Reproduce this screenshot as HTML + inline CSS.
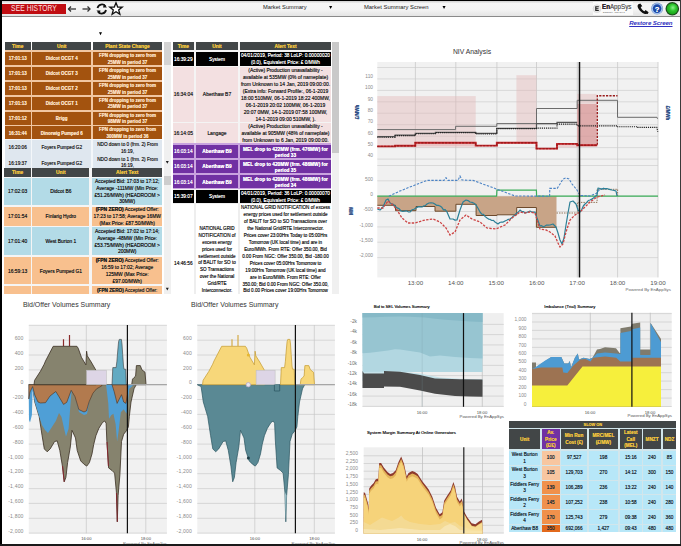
<!DOCTYPE html><html><head><meta charset="utf-8"><style>
html,body{margin:0;padding:0;width:681px;height:546px;overflow:hidden;background:#fff;font-family:"Liberation Sans",sans-serif;}
#root{position:absolute;left:0;top:0;width:681px;height:546px;overflow:hidden;background:#fff;}
svg{position:absolute;left:0;top:0;}
#root div{text-shadow:0 0 0.2px currentColor;}
</style></head><body><div id="root">
<div style="position:absolute;left:0.00px;top:0.00px;width:681.00px;height:16.50px;background:linear-gradient(#cfcfcf 1px,#f6f6f6 3.5px,#f4f4f4 55%,#e2e2e2);"></div>
<div style="position:absolute;left:0.00px;top:0.00px;width:681.00px;height:1.20px;background:#000;"></div>
<div style="position:absolute;left:0.00px;top:15.60px;width:681.00px;height:1.20px;background:#8a8a8a;"></div>
<div style="position:absolute;left:2.30px;top:3.90px;width:63.50px;height:9.70px;background:#c00d12;"></div>
<div style="position:absolute;left:2.00px;top:3.10px;width:64.00px;height:11.00px;display:flex;flex-direction:column;justify-content:center;overflow:visible;"><div style="font-size:8.2px;line-height:9.839999999999998px;color:#ffe0e0;font-weight:normal;text-align:center;transform:scaleX(0.82);letter-spacing:0.1px;text-shadow:none">SEE HISTORY</div></div>
<svg width="681" height="20" viewBox="0 0 681 20" style="position:absolute;left:0;top:0">
<g stroke="#333" stroke-width="1.3" fill="none">
<path d="M68.5 9 H76"/><path d="M71 6.5 L68.5 9 L71 11.5"/>
<path d="M82.5 9 H90"/><path d="M87.5 6.5 L90 9 L87.5 11.5"/>
</g>
<g fill="none" stroke="#111" stroke-width="1.8">
<path d="M97.5 8 A4.5 4.5 0 0 1 105.5 6.2"/>
<path d="M106 10 A4.5 4.5 0 0 1 98 11.8"/>
</g>
<path d="M104 4 L107 7.5 L103 7.5 Z" fill="#111"/>
<path d="M99.5 14 L96.5 10.5 L100.5 10.5 Z" fill="#111"/>
<path d="M116 2.8 L117.7 7 L122.2 7.1 L118.7 9.9 L119.9 14.3 L116 11.8 L112.1 14.3 L113.3 9.9 L109.8 7.1 L114.3 7 Z" fill="#fff" stroke="#111" stroke-width="1.3" stroke-linejoin="miter"/>
</svg>
<div style="position:absolute;left:255.00px;top:1.90px;width:65.00px;height:12.00px;display:flex;flex-direction:column;justify-content:center;overflow:visible;"><div style="font-size:5.75px;line-height:6.8999999999999995px;color:#222;font-weight:normal;text-align:left;padding-left:7.9px;text-shadow:none">Market Summary</div></div>
<div style="position:absolute;left:356.00px;top:1.90px;width:74.00px;height:12.00px;display:flex;flex-direction:column;justify-content:center;overflow:visible;"><div style="font-size:5.85px;line-height:7.02px;color:#222;font-weight:normal;text-align:left;padding-left:8px;text-shadow:none">Market Summary Screen</div></div>
<div style="position:absolute;left:592.50px;top:2.00px;width:40.50px;height:13.00px;background:#fafafa;"></div>
<svg width="681" height="30" viewBox="0 0 681 30" style="position:absolute;left:0;top:0">
<circle cx="597" cy="8.7" r="3.9" fill="#e8e8e8" stroke="#cfcfcf" stroke-width="0.6"/>
<path d="M595.2 6.3 H598.8 V7.3 H596.4 V8.2 H598.5 V9.2 H596.4 V10.1 H598.8 V11.1 H595.2 Z" fill="#222"/>
<path d="M638.2 4.6 C637.2 5.6 637.4 7.2 638.6 9 C640 11.1 641.9 12.8 644.2 13.7 C645.8 14.3 647.4 14 648.2 12.9 L646.2 10.9 C645.5 11.4 644.7 11.5 643.8 11 C642.5 10.2 641.4 8.9 640.9 7.6 C640.6 6.8 640.8 6.1 641.5 5.6 Z" fill="#111"/>
<path d="M638 4.4 L640.3 3.4 L642.3 6.2 L640.6 7.1 Z M644.4 11.6 L645.6 10 L648.6 12.2 L647.6 14 Z" fill="#111"/>
<circle cx="657.1" cy="8.6" r="6.0" fill="#7f9fcf"/>
<circle cx="657.1" cy="8.6" r="5.4" fill="#a9c6f0"/>
<circle cx="657.1" cy="8.6" r="4.3" fill="#1d4aa8"/>
<defs><radialGradient id="gg" cx="0.55" cy="0.4" r="0.6"><stop offset="0" stop-color="#8af58a"/><stop offset="0.5" stop-color="#2cc42c"/><stop offset="1" stop-color="#17a017"/></radialGradient></defs>
<circle cx="672.3" cy="8.8" r="6.8" fill="#1e4a1e"/>
<circle cx="672.3" cy="8.8" r="5.6" fill="url(#gg)"/>
</svg>
<div style="position:absolute;left:602.20px;top:3.90px;width:37.80px;height:8.00px;display:flex;flex-direction:column;justify-content:center;overflow:visible;"><div style="font-size:7.4px;line-height:8.88px;color:#333;font-weight:normal;text-align:left;transform:scaleX(0.84);transform-origin:0 50%;white-space:nowrap"><span style="color:#2a2a2a;font-weight:bold">En</span><span style="color:#666">AppSys</span></div></div>
<div style="position:absolute;left:603.00px;top:10.30px;width:29.00px;height:3.00px;display:flex;flex-direction:column;justify-content:center;overflow:visible;"><div style="font-size:2px;line-height:2.4px;color:#888;font-weight:normal;text-align:left;letter-spacing:0.35px">ENERGY INSIGHT</div></div>
<div style="position:absolute;left:650.00px;top:3.70px;width:14.00px;height:12.00px;display:flex;flex-direction:column;justify-content:center;overflow:visible;"><div style="font-size:7.6px;line-height:9.12px;color:#fff;font-weight:bold;text-align:center;">?</div></div>
<div style="position:absolute;left:620.00px;top:17.90px;width:52.50px;height:10.00px;display:flex;flex-direction:column;justify-content:center;overflow:visible;"><div style="font-size:6.1px;line-height:7.319999999999999px;color:#3030c0;font-weight:bold;text-align:right;font-style:italic;text-decoration:underline;text-decoration-thickness:0.5px;letter-spacing:-0.1px;text-shadow:none">Restore Screen</div></div>
<svg width="681" height="40" style="position:absolute;left:0;top:0"><path d="M329.1 5.9 H332.2 L330.65 8.9 Z M442.5 5.9 H445.6 L444.05 8.9 Z M99 32.2 H102 L100.5 35.2 Z" fill="#000"/></svg>
<div style="position:absolute;left:4.50px;top:41.80px;width:157.50px;height:125.80px;background:#ffffff;"></div>
<div style="position:absolute;left:4.50px;top:41.80px;width:26.40px;height:8.10px;background:#424647;"></div>
<div style="position:absolute;left:4.50px;top:43.10px;width:26.40px;height:8.10px;display:flex;flex-direction:column;justify-content:center;overflow:visible;"><div style="font-size:4.9px;line-height:6.9px;color:#eec23e;font-weight:bold;text-align:center;white-space:nowrap">Time</div></div>
<div style="position:absolute;left:32.30px;top:41.80px;width:58.90px;height:8.10px;background:#424647;"></div>
<div style="position:absolute;left:32.30px;top:43.10px;width:58.90px;height:8.10px;display:flex;flex-direction:column;justify-content:center;overflow:visible;"><div style="font-size:4.9px;line-height:6.9px;color:#eec23e;font-weight:bold;text-align:center;white-space:nowrap">Unit</div></div>
<div style="position:absolute;left:93.00px;top:41.80px;width:69.00px;height:8.10px;background:#424647;"></div>
<div style="position:absolute;left:93.00px;top:43.10px;width:69.00px;height:8.10px;display:flex;flex-direction:column;justify-content:center;overflow:visible;"><div style="font-size:4.9px;line-height:6.9px;color:#eec23e;font-weight:bold;text-align:center;white-space:nowrap">Plant State Change</div></div>
<div style="position:absolute;left:4.50px;top:49.90px;width:157.50px;height:90.20px;background:#f1c7a2;"></div>
<div style="position:absolute;left:4.50px;top:51.90px;width:26.40px;height:13.10px;background:#a3530f;"></div>
<div style="position:absolute;left:4.50px;top:53.20px;width:26.40px;height:13.10px;display:flex;flex-direction:column;justify-content:center;overflow:visible;"><div style="font-size:4.5px;line-height:6.6px;color:#fbe0c4;font-weight:bold;text-align:center;white-space:nowrap">17:01:13</div></div>
<div style="position:absolute;left:32.30px;top:51.90px;width:58.90px;height:13.10px;background:#a3530f;"></div>
<div style="position:absolute;left:32.30px;top:53.20px;width:58.90px;height:13.10px;display:flex;flex-direction:column;justify-content:center;overflow:visible;"><div style="font-size:4.5px;line-height:6.6px;color:#fbe0c4;font-weight:bold;text-align:center;white-space:nowrap">Didcot OCGT 4</div></div>
<div style="position:absolute;left:93.00px;top:51.90px;width:69.00px;height:13.10px;background:#a3530f;"></div>
<div style="position:absolute;left:93.00px;top:53.20px;width:69.00px;height:13.10px;display:flex;flex-direction:column;justify-content:center;overflow:visible;"><div style="font-size:4.5px;line-height:6.6px;color:#fbe0c4;font-weight:bold;text-align:center;white-space:nowrap">FPN dropping to zero from<br>25MW in period 37</div></div>
<div style="position:absolute;left:4.50px;top:66.80px;width:26.40px;height:13.10px;background:#a3530f;"></div>
<div style="position:absolute;left:4.50px;top:68.10px;width:26.40px;height:13.10px;display:flex;flex-direction:column;justify-content:center;overflow:visible;"><div style="font-size:4.5px;line-height:6.6px;color:#fbe0c4;font-weight:bold;text-align:center;white-space:nowrap">17:01:13</div></div>
<div style="position:absolute;left:32.30px;top:66.80px;width:58.90px;height:13.10px;background:#a3530f;"></div>
<div style="position:absolute;left:32.30px;top:68.10px;width:58.90px;height:13.10px;display:flex;flex-direction:column;justify-content:center;overflow:visible;"><div style="font-size:4.5px;line-height:6.6px;color:#fbe0c4;font-weight:bold;text-align:center;white-space:nowrap">Didcot OCGT 3</div></div>
<div style="position:absolute;left:93.00px;top:66.80px;width:69.00px;height:13.10px;background:#a3530f;"></div>
<div style="position:absolute;left:93.00px;top:68.10px;width:69.00px;height:13.10px;display:flex;flex-direction:column;justify-content:center;overflow:visible;"><div style="font-size:4.5px;line-height:6.6px;color:#fbe0c4;font-weight:bold;text-align:center;white-space:nowrap">FPN dropping to zero from<br>25MW in period 37</div></div>
<div style="position:absolute;left:4.50px;top:81.70px;width:26.40px;height:13.10px;background:#a3530f;"></div>
<div style="position:absolute;left:4.50px;top:83.00px;width:26.40px;height:13.10px;display:flex;flex-direction:column;justify-content:center;overflow:visible;"><div style="font-size:4.5px;line-height:6.6px;color:#fbe0c4;font-weight:bold;text-align:center;white-space:nowrap">17:01:13</div></div>
<div style="position:absolute;left:32.30px;top:81.70px;width:58.90px;height:13.10px;background:#a3530f;"></div>
<div style="position:absolute;left:32.30px;top:83.00px;width:58.90px;height:13.10px;display:flex;flex-direction:column;justify-content:center;overflow:visible;"><div style="font-size:4.5px;line-height:6.6px;color:#fbe0c4;font-weight:bold;text-align:center;white-space:nowrap">Didcot OCGT 2</div></div>
<div style="position:absolute;left:93.00px;top:81.70px;width:69.00px;height:13.10px;background:#a3530f;"></div>
<div style="position:absolute;left:93.00px;top:83.00px;width:69.00px;height:13.10px;display:flex;flex-direction:column;justify-content:center;overflow:visible;"><div style="font-size:4.5px;line-height:6.6px;color:#fbe0c4;font-weight:bold;text-align:center;white-space:nowrap">FPN dropping to zero from<br>25MW in period 37</div></div>
<div style="position:absolute;left:4.50px;top:96.60px;width:26.40px;height:13.10px;background:#a3530f;"></div>
<div style="position:absolute;left:4.50px;top:97.90px;width:26.40px;height:13.10px;display:flex;flex-direction:column;justify-content:center;overflow:visible;"><div style="font-size:4.5px;line-height:6.6px;color:#fbe0c4;font-weight:bold;text-align:center;white-space:nowrap">17:01:13</div></div>
<div style="position:absolute;left:32.30px;top:96.60px;width:58.90px;height:13.10px;background:#a3530f;"></div>
<div style="position:absolute;left:32.30px;top:97.90px;width:58.90px;height:13.10px;display:flex;flex-direction:column;justify-content:center;overflow:visible;"><div style="font-size:4.5px;line-height:6.6px;color:#fbe0c4;font-weight:bold;text-align:center;white-space:nowrap">Didcot OCGT 1</div></div>
<div style="position:absolute;left:93.00px;top:96.60px;width:69.00px;height:13.10px;background:#a3530f;"></div>
<div style="position:absolute;left:93.00px;top:97.90px;width:69.00px;height:13.10px;display:flex;flex-direction:column;justify-content:center;overflow:visible;"><div style="font-size:4.5px;line-height:6.6px;color:#fbe0c4;font-weight:bold;text-align:center;white-space:nowrap">FPN dropping to zero from<br>25MW in period 37</div></div>
<div style="position:absolute;left:4.50px;top:111.50px;width:26.40px;height:13.10px;background:#a3530f;"></div>
<div style="position:absolute;left:4.50px;top:112.80px;width:26.40px;height:13.10px;display:flex;flex-direction:column;justify-content:center;overflow:visible;"><div style="font-size:4.5px;line-height:6.6px;color:#fbe0c4;font-weight:bold;text-align:center;white-space:nowrap">17:01:12</div></div>
<div style="position:absolute;left:32.30px;top:111.50px;width:58.90px;height:13.10px;background:#a3530f;"></div>
<div style="position:absolute;left:32.30px;top:112.80px;width:58.90px;height:13.10px;display:flex;flex-direction:column;justify-content:center;overflow:visible;"><div style="font-size:4.5px;line-height:6.6px;color:#fbe0c4;font-weight:bold;text-align:center;white-space:nowrap">Brigg</div></div>
<div style="position:absolute;left:93.00px;top:111.50px;width:69.00px;height:13.10px;background:#a3530f;"></div>
<div style="position:absolute;left:93.00px;top:112.80px;width:69.00px;height:13.10px;display:flex;flex-direction:column;justify-content:center;overflow:visible;"><div style="font-size:4.5px;line-height:6.6px;color:#fbe0c4;font-weight:bold;text-align:center;white-space:nowrap">FPN dropping to zero from<br>98MW in period 37</div></div>
<div style="position:absolute;left:4.50px;top:126.00px;width:26.40px;height:13.40px;background:#a3530f;"></div>
<div style="position:absolute;left:4.50px;top:127.30px;width:26.40px;height:13.40px;display:flex;flex-direction:column;justify-content:center;overflow:visible;"><div style="font-size:4.5px;line-height:6.6px;color:#fbe0c4;font-weight:bold;text-align:center;white-space:nowrap">16:31:44</div></div>
<div style="position:absolute;left:32.30px;top:126.00px;width:58.90px;height:13.40px;background:#a3530f;"></div>
<div style="position:absolute;left:32.30px;top:127.30px;width:58.90px;height:13.40px;display:flex;flex-direction:column;justify-content:center;overflow:visible;"><div style="font-size:4.5px;line-height:6.6px;color:#fbe0c4;font-weight:bold;text-align:center;white-space:nowrap">Dinorwig Pumped 6</div></div>
<div style="position:absolute;left:93.00px;top:126.00px;width:69.00px;height:13.40px;background:#a3530f;"></div>
<div style="position:absolute;left:93.00px;top:127.30px;width:69.00px;height:13.40px;display:flex;flex-direction:column;justify-content:center;overflow:visible;"><div style="font-size:4.5px;line-height:6.6px;color:#fbe0c4;font-weight:bold;text-align:center;white-space:nowrap">FPN dropping to zero from<br>300MW in period 36</div></div>
<div style="position:absolute;left:4.50px;top:139.40px;width:157.50px;height:28.20px;background:#f4f7fa;"></div>
<div style="position:absolute;left:4.50px;top:140.10px;width:26.40px;height:14.50px;background:#dfe7ef;"></div>
<div style="position:absolute;left:4.50px;top:141.40px;width:26.40px;height:14.50px;display:flex;flex-direction:column;justify-content:center;overflow:visible;"><div style="font-size:4.7px;line-height:6.6px;color:#2b2b2b;font-weight:normal;text-align:center;white-space:nowrap">16:20:06</div></div>
<div style="position:absolute;left:32.30px;top:140.10px;width:58.90px;height:14.50px;background:#dfe7ef;"></div>
<div style="position:absolute;left:32.30px;top:141.40px;width:58.90px;height:14.50px;display:flex;flex-direction:column;justify-content:center;overflow:visible;"><div style="font-size:4.7px;line-height:6.6px;color:#2b2b2b;font-weight:normal;text-align:center;white-space:nowrap">Foyers Pumped G2</div></div>
<div style="position:absolute;left:93.00px;top:140.10px;width:69.00px;height:14.50px;background:#dfe7ef;"></div>
<div style="position:absolute;left:93.00px;top:141.40px;width:69.00px;height:14.50px;display:flex;flex-direction:column;justify-content:center;overflow:visible;"><div style="font-size:4.7px;line-height:6.6px;color:#2b2b2b;font-weight:normal;text-align:center;white-space:nowrap">NDO down to 0 (frm. 2) From<br>16:19,</div></div>
<div style="position:absolute;left:4.50px;top:155.40px;width:26.40px;height:13.60px;background:#dfe7ef;"></div>
<div style="position:absolute;left:4.50px;top:157.00px;width:26.40px;height:13.60px;display:flex;flex-direction:column;justify-content:center;overflow:visible;"><div style="font-size:4.7px;line-height:6.6px;color:#2b2b2b;font-weight:normal;text-align:center;white-space:nowrap">16:19:37</div></div>
<div style="position:absolute;left:32.30px;top:155.40px;width:58.90px;height:13.60px;background:#dfe7ef;"></div>
<div style="position:absolute;left:32.30px;top:157.00px;width:58.90px;height:13.60px;display:flex;flex-direction:column;justify-content:center;overflow:visible;"><div style="font-size:4.7px;line-height:6.6px;color:#2b2b2b;font-weight:normal;text-align:center;white-space:nowrap">Foyers Pumped G2</div></div>
<div style="position:absolute;left:93.00px;top:155.40px;width:69.00px;height:13.60px;background:#dfe7ef;"></div>
<div style="position:absolute;left:93.00px;top:156.70px;width:69.00px;height:13.60px;display:flex;flex-direction:column;justify-content:center;overflow:visible;"><div style="font-size:4.7px;line-height:6.6px;color:#2b2b2b;font-weight:normal;text-align:center;white-space:nowrap">NDO down to 1 (frm. 2) From<br>16:19,</div></div>
<div style="position:absolute;left:163.80px;top:41.80px;width:7.40px;height:125.80px;background:#f0f0f0;"></div>
<div style="position:absolute;left:164.30px;top:41.80px;width:6.60px;height:23.50px;background:#d3d3d3;"></div>
<div style="position:absolute;left:4.40px;top:167.60px;width:157.60px;height:126.40px;background:#f5f5f5;"></div>
<div style="position:absolute;left:4.40px;top:168.10px;width:26.40px;height:8.70px;background:#424647;"></div>
<div style="position:absolute;left:4.40px;top:169.40px;width:26.40px;height:8.70px;display:flex;flex-direction:column;justify-content:center;overflow:visible;"><div style="font-size:4.9px;line-height:6.9px;color:#eec23e;font-weight:bold;text-align:center;white-space:nowrap">Time</div></div>
<div style="position:absolute;left:32.30px;top:168.10px;width:57.10px;height:8.70px;background:#424647;"></div>
<div style="position:absolute;left:32.30px;top:169.40px;width:57.10px;height:8.70px;display:flex;flex-direction:column;justify-content:center;overflow:visible;"><div style="font-size:4.9px;line-height:6.9px;color:#eec23e;font-weight:bold;text-align:center;white-space:nowrap">Unit</div></div>
<div style="position:absolute;left:92.40px;top:168.10px;width:69.60px;height:8.70px;background:#424647;"></div>
<div style="position:absolute;left:92.40px;top:169.40px;width:69.60px;height:8.70px;display:flex;flex-direction:column;justify-content:center;overflow:visible;"><div style="font-size:4.9px;line-height:6.9px;color:#eec23e;font-weight:bold;text-align:center;white-space:nowrap">Alert Text</div></div>
<div style="position:absolute;left:4.40px;top:177.60px;width:26.40px;height:27.40px;background:#b3dbe7;"></div>
<div style="position:absolute;left:4.40px;top:178.90px;width:26.40px;height:27.40px;display:flex;flex-direction:column;justify-content:center;overflow:visible;"><div style="font-size:4.9px;line-height:6.85px;color:#222;font-weight:normal;text-align:center;white-space:nowrap">17:02:03</div></div>
<div style="position:absolute;left:32.30px;top:177.60px;width:57.10px;height:27.40px;background:#b3dbe7;"></div>
<div style="position:absolute;left:32.30px;top:178.90px;width:57.10px;height:27.40px;display:flex;flex-direction:column;justify-content:center;overflow:visible;"><div style="font-size:4.9px;line-height:6.85px;color:#222;font-weight:normal;text-align:center;white-space:nowrap">Didcot B6</div></div>
<div style="position:absolute;left:92.40px;top:177.60px;width:69.60px;height:27.40px;background:#b3dbe7;"></div>
<div style="position:absolute;left:92.40px;top:178.90px;width:69.60px;height:27.40px;display:flex;flex-direction:column;justify-content:center;overflow:visible;"><div style="font-size:4.9px;line-height:6.85px;color:#222;font-weight:normal;text-align:center;white-space:nowrap">Accepted Bid: 17:03 to 17:12;<br>Average -111MW (Min Price:<br>£51.26/MWh) (HEADROOM &gt;<br>30MW)</div></div>
<div style="position:absolute;left:4.40px;top:206.90px;width:26.40px;height:19.10px;background:#f8c08e;"></div>
<div style="position:absolute;left:4.40px;top:208.20px;width:26.40px;height:19.10px;display:flex;flex-direction:column;justify-content:center;overflow:visible;"><div style="font-size:4.9px;line-height:6.85px;color:#222;font-weight:normal;text-align:center;white-space:nowrap">17:01:54</div></div>
<div style="position:absolute;left:32.30px;top:206.90px;width:57.10px;height:19.10px;background:#f8c08e;"></div>
<div style="position:absolute;left:32.30px;top:208.20px;width:57.10px;height:19.10px;display:flex;flex-direction:column;justify-content:center;overflow:visible;"><div style="font-size:4.9px;line-height:6.85px;color:#222;font-weight:normal;text-align:center;white-space:nowrap">Finlarig Hydro</div></div>
<div style="position:absolute;left:92.40px;top:206.90px;width:69.60px;height:19.10px;background:#f8c08e;"></div>
<div style="position:absolute;left:92.40px;top:208.20px;width:69.60px;height:19.10px;display:flex;flex-direction:column;justify-content:center;overflow:visible;"><div style="font-size:4.9px;line-height:6.85px;color:#222;font-weight:normal;text-align:center;white-space:nowrap"><b>(FPN ZERO)</b> Accepted Offer:<br>17:23 to 17:58; Average 16MW<br>(Max Price: £87.50/MWh)</div></div>
<div style="position:absolute;left:4.40px;top:227.40px;width:26.40px;height:27.80px;background:#b3dbe7;"></div>
<div style="position:absolute;left:4.40px;top:228.70px;width:26.40px;height:27.80px;display:flex;flex-direction:column;justify-content:center;overflow:visible;"><div style="font-size:4.9px;line-height:6.85px;color:#222;font-weight:normal;text-align:center;white-space:nowrap">17:01:40</div></div>
<div style="position:absolute;left:32.30px;top:227.40px;width:57.10px;height:27.80px;background:#b3dbe7;"></div>
<div style="position:absolute;left:32.30px;top:228.70px;width:57.10px;height:27.80px;display:flex;flex-direction:column;justify-content:center;overflow:visible;"><div style="font-size:4.9px;line-height:6.85px;color:#222;font-weight:normal;text-align:center;white-space:nowrap">West Burton 1</div></div>
<div style="position:absolute;left:92.40px;top:227.40px;width:69.60px;height:27.80px;background:#b3dbe7;"></div>
<div style="position:absolute;left:92.40px;top:228.70px;width:69.60px;height:27.80px;display:flex;flex-direction:column;justify-content:center;overflow:visible;"><div style="font-size:4.9px;line-height:6.85px;color:#222;font-weight:normal;text-align:center;white-space:nowrap">Accepted Bid: 17:02 to 17:14;<br>Average -48MW (Min Price:<br>£53.75/MWh) (HEADROOM &gt;<br>200MW)</div></div>
<div style="position:absolute;left:4.40px;top:257.30px;width:26.40px;height:27.00px;background:#f8c08e;"></div>
<div style="position:absolute;left:4.40px;top:258.60px;width:26.40px;height:27.00px;display:flex;flex-direction:column;justify-content:center;overflow:visible;"><div style="font-size:4.9px;line-height:6.85px;color:#222;font-weight:normal;text-align:center;white-space:nowrap">16:59:13</div></div>
<div style="position:absolute;left:32.30px;top:257.30px;width:57.10px;height:27.00px;background:#f8c08e;"></div>
<div style="position:absolute;left:32.30px;top:258.60px;width:57.10px;height:27.00px;display:flex;flex-direction:column;justify-content:center;overflow:visible;"><div style="font-size:4.9px;line-height:6.85px;color:#222;font-weight:normal;text-align:center;white-space:nowrap">Foyers Pumped G1</div></div>
<div style="position:absolute;left:92.40px;top:257.30px;width:69.60px;height:27.00px;background:#f8c08e;"></div>
<div style="position:absolute;left:92.40px;top:258.60px;width:69.60px;height:27.00px;display:flex;flex-direction:column;justify-content:center;overflow:visible;"><div style="font-size:4.9px;line-height:6.85px;color:#222;font-weight:normal;text-align:center;white-space:nowrap"><b>(FPN ZERO)</b> Accepted Offer:<br>16:59 to 17:02; Average<br>125MW (Max Price:<br>£97.00/MWh)</div></div>
<div style="position:absolute;left:4.40px;top:285.70px;width:26.40px;height:14.30px;background:#f8c08e;"></div>
<div style="position:absolute;left:32.30px;top:285.70px;width:57.10px;height:14.30px;background:#f8c08e;"></div>
<div style="position:absolute;left:92.40px;top:285.70px;width:69.60px;height:14.30px;background:#f8c08e;"></div>
<div style="position:absolute;left:92.40px;top:287.00px;width:69.60px;height:8.30px;display:flex;flex-direction:column;justify-content:flex-start;overflow:visible;"><div style="font-size:4.7px;line-height:5.64px;color:#2a2a2a;font-weight:normal;text-align:center;white-space:nowrap;padding-top:1px"><b>(FPN ZERO)</b> Accepted Offer:</div></div>
<div style="position:absolute;left:0.00px;top:294.00px;width:172.00px;height:6.00px;background:#ffffff;"></div>
<div style="position:absolute;left:163.80px;top:167.60px;width:7.40px;height:126.40px;background:#f0f0f0;"></div>
<div style="position:absolute;left:164.40px;top:176.40px;width:6.20px;height:8.60px;background:#cdcdcd;"></div>
<div style="position:absolute;left:172.70px;top:41.80px;width:158.30px;height:252.20px;background:#f4f4f4;"></div>
<div style="position:absolute;left:172.70px;top:41.80px;width:21.30px;height:8.20px;background:#424647;"></div>
<div style="position:absolute;left:172.70px;top:43.10px;width:21.30px;height:8.20px;display:flex;flex-direction:column;justify-content:center;overflow:visible;"><div style="font-size:4.9px;line-height:6.9px;color:#eec23e;font-weight:bold;text-align:center;white-space:nowrap">Time</div></div>
<div style="position:absolute;left:196.00px;top:41.80px;width:42.00px;height:8.20px;background:#424647;"></div>
<div style="position:absolute;left:196.00px;top:43.10px;width:42.00px;height:8.20px;display:flex;flex-direction:column;justify-content:center;overflow:visible;"><div style="font-size:4.9px;line-height:6.9px;color:#eec23e;font-weight:bold;text-align:center;white-space:nowrap">Unit</div></div>
<div style="position:absolute;left:240.00px;top:41.80px;width:91.00px;height:8.20px;background:#424647;"></div>
<div style="position:absolute;left:240.00px;top:43.10px;width:91.00px;height:8.20px;display:flex;flex-direction:column;justify-content:center;overflow:visible;"><div style="font-size:4.9px;line-height:6.9px;color:#eec23e;font-weight:bold;text-align:center;white-space:nowrap">Alert Text</div></div>
<div style="position:absolute;left:172.70px;top:52.00px;width:21.30px;height:14.00px;background:#000;"></div>
<div style="position:absolute;left:172.70px;top:53.30px;width:21.30px;height:14.00px;display:flex;flex-direction:column;justify-content:center;overflow:visible;"><div style="font-size:4.8px;line-height:6.9px;color:#fff;font-weight:normal;text-align:center;white-space:nowrap">16:39:29</div></div>
<div style="position:absolute;left:196.00px;top:52.00px;width:42.00px;height:14.00px;background:#000;"></div>
<div style="position:absolute;left:196.00px;top:53.30px;width:42.00px;height:14.00px;display:flex;flex-direction:column;justify-content:center;overflow:visible;"><div style="font-size:4.8px;line-height:6.9px;color:#fff;font-weight:normal;text-align:center;white-space:nowrap">System</div></div>
<div style="position:absolute;left:240.00px;top:52.00px;width:91.00px;height:14.00px;background:#000;"></div>
<div style="position:absolute;left:240.00px;top:53.30px;width:91.00px;height:14.00px;display:flex;flex-direction:column;justify-content:center;overflow:visible;"><div style="font-size:4.8px;line-height:6.9px;color:#fff;font-weight:normal;text-align:center;white-space:nowrap">04/01/2019, Period: 38 LoLP: 0.00000020<br>(0.0), Equivalent Price: £ 0/MWh</div></div>
<div style="position:absolute;left:172.70px;top:66.80px;width:21.30px;height:55.50px;background:#f3e0e1;"></div>
<div style="position:absolute;left:172.70px;top:68.10px;width:21.30px;height:55.50px;display:flex;flex-direction:column;justify-content:center;overflow:visible;"><div style="font-size:4.95px;line-height:6.93px;color:#2a2a2a;font-weight:normal;text-align:center;white-space:nowrap">16:34:04</div></div>
<div style="position:absolute;left:196.00px;top:66.80px;width:42.00px;height:55.50px;background:#f3e0e1;"></div>
<div style="position:absolute;left:196.00px;top:68.10px;width:42.00px;height:55.50px;display:flex;flex-direction:column;justify-content:center;overflow:visible;"><div style="font-size:4.95px;line-height:6.93px;color:#2a2a2a;font-weight:normal;text-align:center;white-space:nowrap">Aberthaw B7</div></div>
<div style="position:absolute;left:240.00px;top:66.80px;width:91.00px;height:55.50px;background:#f3e0e1;"></div>
<div style="position:absolute;left:240.00px;top:68.10px;width:91.00px;height:55.50px;display:flex;flex-direction:column;justify-content:center;overflow:visible;"><div style="font-size:4.95px;line-height:6.93px;color:#2a2a2a;font-weight:normal;text-align:center;white-space:nowrap">(Active) Production unavailability -<br>available at 535MW (0% of nameplate)<br>from Unknown to 14 Jan, 2019 09:00:00.<br>(Extra info: Forward Profile:, 06-1-2019<br>18:00 510MW, 06-1-2019 18:22 400MW,<br>06-1-2019 20:02 100MW, 06-1-2019<br>20:07 0MW, 14-1-2019 07:58 100MW,<br>14-1-2019 09:00 510MW, ).</div></div>
<div style="position:absolute;left:172.70px;top:123.00px;width:21.30px;height:20.40px;background:#f3e0e1;"></div>
<div style="position:absolute;left:172.70px;top:124.30px;width:21.30px;height:20.40px;display:flex;flex-direction:column;justify-content:center;overflow:visible;"><div style="font-size:4.95px;line-height:6.93px;color:#2a2a2a;font-weight:normal;text-align:center;white-space:nowrap">16:14:05</div></div>
<div style="position:absolute;left:196.00px;top:123.00px;width:42.00px;height:20.40px;background:#f3e0e1;"></div>
<div style="position:absolute;left:196.00px;top:124.30px;width:42.00px;height:20.40px;display:flex;flex-direction:column;justify-content:center;overflow:visible;"><div style="font-size:4.95px;line-height:6.93px;color:#2a2a2a;font-weight:normal;text-align:center;white-space:nowrap">Langage</div></div>
<div style="position:absolute;left:240.00px;top:123.00px;width:91.00px;height:20.40px;background:#f3e0e1;"></div>
<div style="position:absolute;left:240.00px;top:124.30px;width:91.00px;height:20.40px;display:flex;flex-direction:column;justify-content:center;overflow:visible;"><div style="font-size:4.95px;line-height:6.93px;color:#2a2a2a;font-weight:normal;text-align:center;white-space:nowrap">(Active) Production unavailability -<br>available at 905MW (48% of nameplate)<br>from Unknown to 6 Jan, 2019 09:00:00.</div></div>
<div style="position:absolute;left:172.70px;top:143.40px;width:158.30px;height:46.10px;background:#c9a3df;"></div>
<div style="position:absolute;left:172.70px;top:144.60px;width:21.30px;height:13.20px;background:#7131a3;"></div>
<div style="position:absolute;left:172.70px;top:145.90px;width:21.30px;height:13.20px;display:flex;flex-direction:column;justify-content:center;overflow:visible;"><div style="font-size:4.8px;line-height:6.6px;color:#fff;font-weight:normal;text-align:center;white-space:nowrap">16:03:14</div></div>
<div style="position:absolute;left:196.00px;top:144.60px;width:42.00px;height:13.20px;background:#7131a3;"></div>
<div style="position:absolute;left:196.00px;top:145.90px;width:42.00px;height:13.20px;display:flex;flex-direction:column;justify-content:center;overflow:visible;"><div style="font-size:4.8px;line-height:6.6px;color:#fff;font-weight:bold;text-align:center;white-space:nowrap">Aberthaw B9</div></div>
<div style="position:absolute;left:240.00px;top:144.60px;width:91.00px;height:13.20px;background:#7131a3;"></div>
<div style="position:absolute;left:240.00px;top:146.50px;width:91.00px;height:13.20px;display:flex;flex-direction:column;justify-content:center;overflow:visible;"><div style="font-size:4.8px;line-height:6.6px;color:#fff;font-weight:bold;text-align:center;white-space:nowrap">MEL drop to 422MW (frm. 476MW) for<br>period 33</div></div>
<div style="position:absolute;left:172.70px;top:159.90px;width:21.30px;height:13.20px;background:#7131a3;"></div>
<div style="position:absolute;left:172.70px;top:161.20px;width:21.30px;height:13.20px;display:flex;flex-direction:column;justify-content:center;overflow:visible;"><div style="font-size:4.8px;line-height:6.6px;color:#fff;font-weight:normal;text-align:center;white-space:nowrap">16:03:14</div></div>
<div style="position:absolute;left:196.00px;top:159.90px;width:42.00px;height:13.20px;background:#7131a3;"></div>
<div style="position:absolute;left:196.00px;top:161.20px;width:42.00px;height:13.20px;display:flex;flex-direction:column;justify-content:center;overflow:visible;"><div style="font-size:4.8px;line-height:6.6px;color:#fff;font-weight:bold;text-align:center;white-space:nowrap">Aberthaw B9</div></div>
<div style="position:absolute;left:240.00px;top:159.90px;width:91.00px;height:13.20px;background:#7131a3;"></div>
<div style="position:absolute;left:240.00px;top:161.80px;width:91.00px;height:13.20px;display:flex;flex-direction:column;justify-content:center;overflow:visible;"><div style="font-size:4.8px;line-height:6.6px;color:#fff;font-weight:bold;text-align:center;white-space:nowrap">MEL drop to 420MW (frm. 486MW) for<br>period 35</div></div>
<div style="position:absolute;left:172.70px;top:174.70px;width:21.30px;height:13.60px;background:#7131a3;"></div>
<div style="position:absolute;left:172.70px;top:176.00px;width:21.30px;height:13.60px;display:flex;flex-direction:column;justify-content:center;overflow:visible;"><div style="font-size:4.8px;line-height:6.6px;color:#fff;font-weight:normal;text-align:center;white-space:nowrap">16:03:14</div></div>
<div style="position:absolute;left:196.00px;top:174.70px;width:42.00px;height:13.60px;background:#7131a3;"></div>
<div style="position:absolute;left:196.00px;top:176.00px;width:42.00px;height:13.60px;display:flex;flex-direction:column;justify-content:center;overflow:visible;"><div style="font-size:4.8px;line-height:6.6px;color:#fff;font-weight:bold;text-align:center;white-space:nowrap">Aberthaw B9</div></div>
<div style="position:absolute;left:240.00px;top:174.70px;width:91.00px;height:13.60px;background:#7131a3;"></div>
<div style="position:absolute;left:240.00px;top:176.60px;width:91.00px;height:13.60px;display:flex;flex-direction:column;justify-content:center;overflow:visible;"><div style="font-size:4.8px;line-height:6.6px;color:#fff;font-weight:bold;text-align:center;white-space:nowrap">MEL drop to 420MW (frm. 486MW) for<br>period 34</div></div>
<div style="position:absolute;left:172.70px;top:189.50px;width:21.30px;height:13.50px;background:#000;"></div>
<div style="position:absolute;left:172.70px;top:190.80px;width:21.30px;height:13.50px;display:flex;flex-direction:column;justify-content:center;overflow:visible;"><div style="font-size:4.8px;line-height:6.9px;color:#fff;font-weight:normal;text-align:center;white-space:nowrap">15:39:07</div></div>
<div style="position:absolute;left:196.00px;top:189.50px;width:42.00px;height:13.50px;background:#000;"></div>
<div style="position:absolute;left:196.00px;top:190.80px;width:42.00px;height:13.50px;display:flex;flex-direction:column;justify-content:center;overflow:visible;"><div style="font-size:4.8px;line-height:6.9px;color:#fff;font-weight:normal;text-align:center;white-space:nowrap">System</div></div>
<div style="position:absolute;left:240.00px;top:189.50px;width:91.00px;height:13.50px;background:#000;"></div>
<div style="position:absolute;left:240.00px;top:190.80px;width:91.00px;height:13.50px;display:flex;flex-direction:column;justify-content:center;overflow:visible;"><div style="font-size:4.8px;line-height:6.9px;color:#fff;font-weight:normal;text-align:center;white-space:nowrap">04/01/2019, Period: 36 LoLP: 0.00000070<br>(0.0), Equivalent Price: £ 0/MWh</div></div>
<div style="position:absolute;left:172.70px;top:203.00px;width:158.30px;height:91.00px;background:#eeeeee;"></div>
<div style="position:absolute;left:172.70px;top:203.80px;width:21.30px;height:90.20px;background:#ffffff;"></div>
<div style="position:absolute;left:196.00px;top:203.80px;width:42.00px;height:90.20px;background:#ffffff;"></div>
<div style="position:absolute;left:240.00px;top:203.80px;width:91.00px;height:90.20px;background:#ffffff;"></div>
<div style="position:absolute;left:172.70px;top:261.00px;width:21.30px;height:7.00px;display:flex;flex-direction:column;justify-content:center;overflow:visible;"><div style="font-size:4.75px;line-height:6.93px;color:#2a2a2a;font-weight:normal;text-align:center;">14:46:56</div></div>
<div style="position:absolute;left:196.00px;top:225.80px;width:42.00px;height:69.50px;display:flex;flex-direction:column;justify-content:flex-start;overflow:visible;"><div style="font-size:4.6px;line-height:6.93px;color:#2a2a2a;font-weight:normal;text-align:center;white-space:nowrap">NATIONAL GRID<br>NOTIFICATION of<br>excess energy<br>prices used for<br>settlement outside<br>of BALIT for SO to<br>SO Transactions<br>over the National<br>Grid/RTE<br>Interconnector.</div></div>
<div style="position:absolute;left:240.00px;top:205.20px;width:91.00px;height:90.10px;display:flex;flex-direction:column;justify-content:flex-start;overflow:visible;"><div style="font-size:4.6px;line-height:6.93px;color:#2a2a2a;font-weight:normal;text-align:center;white-space:nowrap">NATIONAL GRID NOTIFICATION of excess<br>energy prices used for settlement outside<br>of BALIT for SO to SO Transactions over<br>the National Grid/RTE Interconnector.<br>Prices cover 23:00Hrs Today to 05:00Hrs<br>Tomorrow (UK local time) and are in<br>Euro/MWh. From RTE: Offer 350.00, Bid<br>0.00 From NGC: Offer 350.00, Bid -180.00<br>Prices cover 05:00Hrs Tomorrow to<br>19:00Hrs Tomorrow (UK local time) and<br>are in Euro/MWh. From RTE: Offer<br>350.00; Bid 0.00 From NGC: Offer 350.00,<br>Bid 0.00 Prices cover 19:00Hrs Tomorrow</div></div>
<div style="position:absolute;left:172.00px;top:294.00px;width:173.00px;height:6.00px;background:#ffffff;"></div>
<svg width="681" height="300" style="position:absolute;left:0;top:0"><path d="M165.8 161.1 H168.8 L167.3 163.8 Z M165.8 287.7 H168.8 L167.3 290.4 Z M334.2 287.7 H337.2 L335.7 290.4 Z" fill="#222"/></svg>
<div style="position:absolute;left:331.80px;top:41.80px;width:7.70px;height:252.20px;background:#f0f0f0;"></div>
<div style="position:absolute;left:332.20px;top:41.80px;width:7.10px;height:110.90px;background:#c9c9c9;"></div>
<svg width="681" height="546" viewBox="0 0 681 546" style="position:absolute;left:0;top:0">
<rect x="377.3" y="62.0" width="280.7" height="215.39999999999998" fill="#f1f1f1"/>
<line x1="377.3" x2="658.0" y1="67.5" y2="67.5" stroke="#d6d6d6" stroke-width="0.9"/>
<line x1="377.3" x2="658.0" y1="78.9" y2="78.9" stroke="#d6d6d6" stroke-width="0.9"/>
<line x1="377.3" x2="658.0" y1="90.4" y2="90.4" stroke="#d6d6d6" stroke-width="0.9"/>
<line x1="377.3" x2="658.0" y1="101.8" y2="101.8" stroke="#d6d6d6" stroke-width="0.9"/>
<line x1="377.3" x2="658.0" y1="113.2" y2="113.2" stroke="#d6d6d6" stroke-width="0.9"/>
<line x1="377.3" x2="658.0" y1="124.7" y2="124.7" stroke="#d6d6d6" stroke-width="0.9"/>
<line x1="377.3" x2="658.0" y1="136.2" y2="136.2" stroke="#d6d6d6" stroke-width="0.9"/>
<line x1="377.3" x2="658.0" y1="147.6" y2="147.6" stroke="#d6d6d6" stroke-width="0.9"/>
<line x1="377.3" x2="658.0" y1="159.1" y2="159.1" stroke="#d6d6d6" stroke-width="0.9"/>
<line x1="377.3" x2="658.0" y1="165.5" y2="165.5" stroke="#d6d6d6" stroke-width="0.9"/>
<line x1="377.3" x2="658.0" y1="180.8" y2="180.8" stroke="#d6d6d6" stroke-width="0.9"/>
<line x1="377.3" x2="658.0" y1="196.2" y2="196.2" stroke="#d6d6d6" stroke-width="0.9"/>
<line x1="377.3" x2="658.0" y1="211.5" y2="211.5" stroke="#d6d6d6" stroke-width="0.9"/>
<line x1="377.3" x2="658.0" y1="226.9" y2="226.9" stroke="#d6d6d6" stroke-width="0.9"/>
<line x1="377.3" x2="658.0" y1="242.2" y2="242.2" stroke="#d6d6d6" stroke-width="0.9"/>
<line x1="377.3" x2="658.0" y1="257.6" y2="257.6" stroke="#d6d6d6" stroke-width="0.9"/>
<line x1="415.4" x2="415.4" y1="62.0" y2="277.4" stroke="#c9c9c9" stroke-width="0.8"/>
<line x1="455.8" x2="455.8" y1="62.0" y2="277.4" stroke="#c9c9c9" stroke-width="0.8"/>
<line x1="496.9" x2="496.9" y1="62.0" y2="277.4" stroke="#c9c9c9" stroke-width="0.8"/>
<line x1="536.5" x2="536.5" y1="62.0" y2="277.4" stroke="#c9c9c9" stroke-width="0.8"/>
<line x1="577.3" x2="577.3" y1="62.0" y2="277.4" stroke="#c9c9c9" stroke-width="0.8"/>
<line x1="617.6" x2="617.6" y1="62.0" y2="277.4" stroke="#c9c9c9" stroke-width="0.8"/>
<line x1="658.0" x2="658.0" y1="62.0" y2="277.4" stroke="#c9c9c9" stroke-width="0.8"/>
<rect x="377.3" y="96.1" width="98.4" height="51.5" fill="#e3b5b5" opacity="0.42"/>
<rect x="516.4" y="75.2" width="20.1" height="68.5" fill="#e3b5b5" opacity="0.42"/>
<rect x="577.1" y="93.9" width="19.5" height="52.5" fill="#e3b5b5" opacity="0.42"/>
<rect x="577.1" y="104.0" width="19.5" height="42.1" fill="#d07878" opacity="0.45"/>
<rect x="415.4" y="143" width="60.3" height="3" fill="#e8b0b0" opacity="0.5"/>
<rect x="556.5" y="144" width="21" height="3.5" fill="#e8b0b0" opacity="0.5"/>
<path d="M377.3 129.6 L455.6 129.6 L455.6 126.3 L496.8 126.3 L496.8 123.6 L536.5 123.6 L536.5 108.5 L577.2 108.5 L577.2 100.3 L617.5 100.3 L617.5 117.3 L657.0 117.3 L657.5 118.8" fill="none" stroke="#6b6b6b" stroke-width="1"/>
<path d="M377.3 136.6 L395.1 136.6 L395.1 135.1 L415.3 135.1 L415.3 133.3 L435.4 133.3 L435.4 132.3 L475.7 132.3 L475.7 133.3 L496.8 133.3 L496.8 128.3 L536.5 128.3 L536.5 123.7 L557.0 123.7 L557.0 122.3 L577.2 122.3" fill="none" stroke="#555" stroke-width="1.2"/>
<path d="M377.3 137.2 L395.1 137.2 L395.1 135.6 L415.3 135.6 L415.3 133.8 L435.4 133.8 L435.4 132.6 L475.7 132.6 L475.7 134.0 L496.8 134.0 L496.8 128.6 L536.5 128.6 L536.5 128.1 L557.0 128.1 L557.0 124.1 L577.2 124.1 L577.2 125.9 L617.5 125.9 L617.5 126.7 L637.8 126.7 L637.8 127.4 L656.8 127.4 L657.8 131.8" fill="none" stroke="#222" stroke-width="1.1" stroke-dasharray="1.2 0.9"/>
<path d="M377.3 146.4 L395.1 146.4 L395.1 145.7 L415.3 145.7 L415.3 142.8 L475.7 142.8 L475.7 145.6 L496.8 145.6 L496.8 142.8 L536.5 142.8 L536.5 148.6 L557.0 148.6 L557.0 143.9 L577.2 143.9 L577.2 145.2 L597.3 145.2" fill="none" stroke="#c9262c" stroke-width="1.9"/>
<path d="M377.3 146.4 L395.1 146.4 L395.1 145.7 L415.3 145.7 L415.3 142.8 L475.7 142.8 L475.7 145.6 L496.8 145.6 L496.8 142.8 L536.5 142.8 L536.5 148.6 L557.0 148.6 L557.0 143.9 L577.2 143.9 L577.2 145.2 L597.3 145.2 L597.3 95.7 L617.5 95.7" fill="none" stroke="#9a1c1c" stroke-width="1.4" stroke-dasharray="2.2 1.2"/>
<path d="M377.3 196.2 L377.3 205.3 L395.5 205.3 L395.5 210.7 L416.0 210.7 L416.0 206.5 L435.0 206.5 L435.0 211.2 L455.9 211.2 L455.9 204.3 L476.1 204.3 L476.1 215.5 L496.9 215.5 L496.9 214.8 L516.7 214.8 L516.7 207.5 L536.4 207.5 L536.4 227.3 L556.5 227.3 L556.5 196.2 Z" fill="#c8a487"/>
<path d="M377.3 205.3 L395.5 205.3 L395.5 210.7 L416.0 210.7 L416.0 206.5 L435.0 206.5 L435.0 211.2 L455.9 211.2 L455.9 204.3 L476.1 204.3 L476.1 215.5 L496.9 215.5 L496.9 214.8 L516.7 214.8 L516.7 207.5 L536.4 207.5 L536.4 227.3 L556.5 227.3" fill="none" stroke="#6e4a2c" stroke-width="1"/>
<path d="M556.5 213.0 L577.7 213.0 L577.7 202.4 L597.1 202.4 L597.1 189.3 L617.6 189.3 L617.6 196.2" fill="none" stroke="#8a6a4a" stroke-width="0.9" stroke-dasharray="1.5 1"/>
<path d="M377.3 196.2 L496.6 196.2 L496.9 190.2 L536.4 190.2 L536.6 196.2 L658.0 196.2" fill="none" stroke="#3cae5a" stroke-width="1.2"/>
<path d="M388.9 196.2 L400.0 191.0 L415.0 185.0 L427.0 180.4 L444.0 180.4 L446.0 177.6 L448.0 180.4 L458.0 180.4 L460.0 176.0 L462.0 180.0 L473.0 180.4 L496.5 189.0 L515.0 196.0 L549.6 196.2 L549.8 188.4 L557.2 188.4 L560.0 184.0 L563.0 179.0 L566.0 177.9 L569.0 179.0 L572.0 184.0 L577.0 190.0 L580.0 195.5 L590.0 196.0 L597.0 193.0 L600.0 189.0 L607.0 188.5" fill="none" stroke="#4a82c4" stroke-width="1.1" stroke-dasharray="2.4 1.4"/>
<path d="M377.3 209.0 L380.0 210.0 L383.0 207.0 L386.0 200.0 L388.0 199.0 L390.0 203.0 L391.7 203.7 L393.3 204.4 L395.0 206.0 L397.0 207.9 L399.0 208.6 L401.0 211.0 L402.8 211.3 L404.6 211.2 L406.4 210.8 L408.2 211.8 L410.0 212.0 L412.0 209.8 L414.0 209.2 L416.0 208.0 L418.0 206.9 L420.0 206.6 L422.0 207.0 L423.7 205.9 L425.3 205.6 L427.0 204.0 L429.0 203.0 L431.0 202.8 L433.0 203.0 L434.8 204.0 L436.5 205.3 L438.2 205.4 L440.0 206.0 L441.8 207.3 L443.5 209.9 L445.2 209.7 L447.0 212.0 L450.0 219.0 L453.0 219.0 L455.0 220.1 L457.0 220.0 L460.0 210.0 L463.0 202.0 L466.0 200.0 L468.0 200.6 L470.0 202.0 L472.0 202.4 L474.0 203.3 L476.0 205.0 L478.0 208.2 L480.0 212.0 L481.8 214.1 L483.5 214.4 L485.2 216.6 L487.0 218.0 L488.6 219.1 L490.2 219.4 L491.8 220.5 L493.4 220.4 L495.0 222.0 L498.0 224.0 L499.8 222.5 L501.5 222.0 L503.2 222.1 L505.0 221.0 L506.7 220.2 L508.3 219.3 L510.0 219.0 L511.7 217.8 L513.3 216.2 L515.0 215.0 L516.7 213.0 L518.3 212.2 L520.0 210.0 L521.7 211.4 L523.3 211.5 L525.0 213.0 L526.7 212.5 L528.3 211.7 L530.0 211.0 L531.7 212.0 L533.3 212.1 L535.0 212.0 L537.0 218.0 L540.0 226.0 L541.7 225.6 L543.3 226.9 L545.0 226.0 L546.7 225.0 L548.3 225.2 L550.0 225.0 L553.0 224.0 L556.0 227.0 L558.0 233.0 L560.0 240.0 L562.0 244.0 L564.0 238.0 L566.0 225.0 L568.0 213.0 L570.0 202.0 L573.0 201.0 L576.0 204.0 L578.0 210.0 L580.0 212.0 L581.7 209.8 L583.3 206.0 L585.0 204.0 L586.7 202.6 L588.3 200.5 L590.0 200.0 L591.8 199.1 L593.5 198.0 L595.2 196.4 L597.0 195.0 L598.0 188.0 L600.0 188.5 L601.8 189.2 L603.5 188.2 L605.2 188.9 L607.0 188.5 L608.7 189.2 L610.3 189.6 L612.0 190.0 L614.0 190.4 L616.0 191.0 L617.0 196.0" fill="none" stroke="#2b7f96" stroke-width="1.2" stroke-linejoin="round"/>
<path d="M377.3 208.0 L383.0 208.0 L388.0 201.0 L393.0 205.0 L397.0 210.0 L402.0 218.0 L408.0 223.0 L415.0 223.0 L425.0 220.0 L433.0 219.0 L440.0 222.0 L446.0 228.0 L450.0 235.0 L455.0 232.0 L460.0 220.0 L466.0 215.0 L472.0 219.0 L480.0 222.0 L487.0 228.0 L496.0 229.0 L505.0 225.0 L512.0 218.0 L520.0 212.0 L525.0 213.0 L530.0 212.0 L535.0 213.0 L537.0 220.0 L540.0 229.0 L546.0 230.0 L550.0 232.0 L555.0 236.0 L558.0 243.0 L560.0 247.0 L563.0 244.0 L566.0 232.0 L570.0 220.0 L575.0 215.0 L580.0 212.0 L585.0 207.0 L590.0 202.0 L597.0 197.0 L605.0 195.0" fill="none" stroke="#cc4444" stroke-width="1.3" stroke-dasharray="2.4 1.3"/>
<line x1="579.5" x2="579.5" y1="62" y2="277.4" stroke="#111" stroke-width="1.5"/>
</svg>
<div style="position:absolute;left:427.00px;top:46.50px;width:90.00px;height:12.00px;display:flex;flex-direction:column;justify-content:center;overflow:visible;"><div style="font-size:6.8px;line-height:8.16px;color:#333;font-weight:normal;text-align:center;;text-shadow:none">NIV Analysis</div></div>
<div style="position:absolute;left:350.00px;top:73.80px;width:23.00px;height:6.00px;display:flex;flex-direction:column;justify-content:center;overflow:visible;"><div style="font-size:4.8px;line-height:5.76px;color:#8a8a8a;font-weight:normal;text-align:right;;text-shadow:none">110</div></div>
<div style="position:absolute;left:350.00px;top:85.15px;width:23.00px;height:6.00px;display:flex;flex-direction:column;justify-content:center;overflow:visible;"><div style="font-size:4.8px;line-height:5.76px;color:#8a8a8a;font-weight:normal;text-align:right;;text-shadow:none">100</div></div>
<div style="position:absolute;left:350.00px;top:96.50px;width:23.00px;height:6.00px;display:flex;flex-direction:column;justify-content:center;overflow:visible;"><div style="font-size:4.8px;line-height:5.76px;color:#8a8a8a;font-weight:normal;text-align:right;;text-shadow:none">90</div></div>
<div style="position:absolute;left:350.00px;top:107.85px;width:23.00px;height:6.00px;display:flex;flex-direction:column;justify-content:center;overflow:visible;"><div style="font-size:4.8px;line-height:5.76px;color:#8a8a8a;font-weight:normal;text-align:right;;text-shadow:none">80</div></div>
<div style="position:absolute;left:350.00px;top:119.20px;width:23.00px;height:6.00px;display:flex;flex-direction:column;justify-content:center;overflow:visible;"><div style="font-size:4.8px;line-height:5.76px;color:#8a8a8a;font-weight:normal;text-align:right;;text-shadow:none">70</div></div>
<div style="position:absolute;left:350.00px;top:130.55px;width:23.00px;height:6.00px;display:flex;flex-direction:column;justify-content:center;overflow:visible;"><div style="font-size:4.8px;line-height:5.76px;color:#8a8a8a;font-weight:normal;text-align:right;;text-shadow:none">60</div></div>
<div style="position:absolute;left:350.00px;top:141.90px;width:23.00px;height:6.00px;display:flex;flex-direction:column;justify-content:center;overflow:visible;"><div style="font-size:4.8px;line-height:5.76px;color:#8a8a8a;font-weight:normal;text-align:right;;text-shadow:none">50</div></div>
<div style="position:absolute;left:350.00px;top:153.25px;width:23.00px;height:6.00px;display:flex;flex-direction:column;justify-content:center;overflow:visible;"><div style="font-size:4.8px;line-height:5.76px;color:#8a8a8a;font-weight:normal;text-align:right;;text-shadow:none">40</div></div>
<div style="position:absolute;left:345.00px;top:177.10px;width:28.00px;height:6.00px;display:flex;flex-direction:column;justify-content:center;overflow:visible;"><div style="font-size:4.8px;line-height:5.76px;color:#8a8a8a;font-weight:normal;text-align:right;;text-shadow:none">500</div></div>
<div style="position:absolute;left:345.00px;top:192.20px;width:28.00px;height:6.00px;display:flex;flex-direction:column;justify-content:center;overflow:visible;"><div style="font-size:4.8px;line-height:5.76px;color:#8a8a8a;font-weight:normal;text-align:right;;text-shadow:none">0</div></div>
<div style="position:absolute;left:345.00px;top:207.30px;width:28.00px;height:6.00px;display:flex;flex-direction:column;justify-content:center;overflow:visible;"><div style="font-size:4.8px;line-height:5.76px;color:#8a8a8a;font-weight:normal;text-align:right;;text-shadow:none">-500</div></div>
<div style="position:absolute;left:345.00px;top:222.40px;width:28.00px;height:6.00px;display:flex;flex-direction:column;justify-content:center;overflow:visible;"><div style="font-size:4.8px;line-height:5.76px;color:#8a8a8a;font-weight:normal;text-align:right;;text-shadow:none">-1,000</div></div>
<div style="position:absolute;left:345.00px;top:237.50px;width:28.00px;height:6.00px;display:flex;flex-direction:column;justify-content:center;overflow:visible;"><div style="font-size:4.8px;line-height:5.76px;color:#8a8a8a;font-weight:normal;text-align:right;;text-shadow:none">-1,500</div></div>
<div style="position:absolute;left:345.00px;top:252.60px;width:28.00px;height:6.00px;display:flex;flex-direction:column;justify-content:center;overflow:visible;"><div style="font-size:4.8px;line-height:5.76px;color:#8a8a8a;font-weight:normal;text-align:right;;text-shadow:none">-2,000</div></div>
<div style="position:absolute;left:400.40px;top:279.30px;width:30.00px;height:7.00px;display:flex;flex-direction:column;justify-content:center;overflow:visible;"><div style="font-size:6.2px;line-height:7.4399999999999995px;color:#555;font-weight:normal;text-align:center;;text-shadow:none">13:00</div></div>
<div style="position:absolute;left:440.83px;top:279.30px;width:30.00px;height:7.00px;display:flex;flex-direction:column;justify-content:center;overflow:visible;"><div style="font-size:6.2px;line-height:7.4399999999999995px;color:#555;font-weight:normal;text-align:center;;text-shadow:none">14:00</div></div>
<div style="position:absolute;left:481.26px;top:279.30px;width:30.00px;height:7.00px;display:flex;flex-direction:column;justify-content:center;overflow:visible;"><div style="font-size:6.2px;line-height:7.4399999999999995px;color:#555;font-weight:normal;text-align:center;;text-shadow:none">15:00</div></div>
<div style="position:absolute;left:521.69px;top:279.30px;width:30.00px;height:7.00px;display:flex;flex-direction:column;justify-content:center;overflow:visible;"><div style="font-size:6.2px;line-height:7.4399999999999995px;color:#555;font-weight:normal;text-align:center;;text-shadow:none">16:00</div></div>
<div style="position:absolute;left:562.12px;top:279.30px;width:30.00px;height:7.00px;display:flex;flex-direction:column;justify-content:center;overflow:visible;"><div style="font-size:6.2px;line-height:7.4399999999999995px;color:#555;font-weight:normal;text-align:center;;text-shadow:none">17:00</div></div>
<div style="position:absolute;left:602.55px;top:279.30px;width:30.00px;height:7.00px;display:flex;flex-direction:column;justify-content:center;overflow:visible;"><div style="font-size:6.2px;line-height:7.4399999999999995px;color:#555;font-weight:normal;text-align:center;;text-shadow:none">18:00</div></div>
<div style="position:absolute;left:642.98px;top:279.30px;width:30.00px;height:7.00px;display:flex;flex-direction:column;justify-content:center;overflow:visible;"><div style="font-size:6.2px;line-height:7.4399999999999995px;color:#555;font-weight:normal;text-align:center;;text-shadow:none">19:00</div></div>
<div style="position:absolute;left:590.00px;top:287.00px;width:81.00px;height:6.00px;display:flex;flex-direction:column;justify-content:center;overflow:visible;"><div style="font-size:4.4px;line-height:5.28px;color:#666;font-weight:normal;text-align:right;;text-shadow:none">Powered By EnAppSys</div></div>
<div style="position:absolute;left:344px;top:109px;width:28px;height:6px;transform:rotate(-90deg);font-size:4.5px;line-height:6px;text-align:center;color:#2f4f86;font-weight:bold">£/MWh</div>
<div style="position:absolute;left:653px;top:109.5px;width:28px;height:6px;transform:rotate(90deg);font-size:4.5px;line-height:6px;text-align:center;color:#2f4f86;font-weight:bold">£/MWh</div>
<div style="position:absolute;left:337.5px;top:208px;width:28px;height:6px;transform:rotate(-90deg);font-size:4.6px;line-height:6px;text-align:center;color:#2f4f86;font-weight:bold">MW</div>
<svg width="681" height="546" viewBox="0 0 681 546" style="position:absolute;left:0;top:0">
<rect x="28.8" y="325" width="138.1" height="208.3" fill="#f1f1f1"/>
<line x1="28.8" x2="166.9" y1="533.1" y2="533.1" stroke="#d4d4d4" stroke-width="0.9"/>
<line x1="28.8" x2="166.9" y1="518.3" y2="518.3" stroke="#d4d4d4" stroke-width="0.9"/>
<line x1="28.8" x2="166.9" y1="503.4" y2="503.4" stroke="#d4d4d4" stroke-width="0.9"/>
<line x1="28.8" x2="166.9" y1="488.6" y2="488.6" stroke="#d4d4d4" stroke-width="0.9"/>
<line x1="28.8" x2="166.9" y1="473.7" y2="473.7" stroke="#d4d4d4" stroke-width="0.9"/>
<line x1="28.8" x2="166.9" y1="458.9" y2="458.9" stroke="#d4d4d4" stroke-width="0.9"/>
<line x1="28.8" x2="166.9" y1="444.1" y2="444.1" stroke="#d4d4d4" stroke-width="0.9"/>
<line x1="28.8" x2="166.9" y1="429.2" y2="429.2" stroke="#d4d4d4" stroke-width="0.9"/>
<line x1="28.8" x2="166.9" y1="414.4" y2="414.4" stroke="#d4d4d4" stroke-width="0.9"/>
<line x1="28.8" x2="166.9" y1="399.5" y2="399.5" stroke="#d4d4d4" stroke-width="0.9"/>
<line x1="28.8" x2="166.9" y1="384.7" y2="384.7" stroke="#d4d4d4" stroke-width="0.9"/>
<line x1="28.8" x2="166.9" y1="369.9" y2="369.9" stroke="#d4d4d4" stroke-width="0.9"/>
<line x1="28.8" x2="166.9" y1="355.0" y2="355.0" stroke="#d4d4d4" stroke-width="0.9"/>
<line x1="28.8" x2="166.9" y1="340.2" y2="340.2" stroke="#d4d4d4" stroke-width="0.9"/>
<line x1="28.8" x2="166.9" y1="325.3" y2="325.3" stroke="#d4d4d4" stroke-width="0.9"/>
<line x1="86.3" x2="86.3" y1="325" y2="533.3" stroke="#c6c6c6" stroke-width="0.7"/>
<line x1="145.8" x2="145.8" y1="325" y2="533.3" stroke="#c6c6c6" stroke-width="0.7"/>
<path d="M28.8 384.7 L32.6 386.6 L34.8 402.0 L39.2 416.6 L42.1 435.7 L44.3 448.9 L47.2 451.8 L50.2 448.9 L54.6 441.5 L57.2 440.9 L59.8 450.4 L62.4 466.1 L64.2 481.8 L65.9 477.4 L67.6 462.6 L70.3 447.0 L72.0 430.3 L75.5 438.0 L77.2 450.4 L80.7 460.9 L84.2 464.4 L86.8 466.1 L89.4 462.6 L92.0 453.9 L93.7 444.5 L95.9 435.7 L98.8 428.4 L102.5 422.5 L104.7 421.0 L106.1 423.2 L106.8 440.0 L108.6 467.9 L112.0 470.5 L114.6 473.1 L116.4 492.2 L117.3 521.8 L118.1 495.7 L119.9 474.8 L121.5 441.5 L123.7 434.2 L126.6 430.5 L128.4 426.9 L129.3 416.6 L131.0 402.0 L134.0 388.8 L136.2 384.7 Z" fill="#86836e" stroke="#3a2f22" stroke-width="0.8"/>
<path d="M28.8 384.7 L28.8 399.0 L29.0 420.0 L30.0 422.5 L31.9 415.0 L32.6 390.0 L34.8 402.0 L39.2 416.6 L42.0 425.0 L45.0 430.0 L48.0 433.0 L51.3 428.0 L55.8 421.0 L59.0 413.0 L61.5 417.0 L64.7 431.3 L66.0 436.4 L68.6 428.7 L71.2 395.4 L72.5 384.7 Z" fill="#4f9fd6"/>
<path d="M76.0 384.7 L76.0 400.0 L79.0 412.0 L84.0 415.0 L87.0 414.0 L89.0 403.0 L92.0 384.7 Z" fill="#4f9fd6"/>
<path d="M106.1 384.7 L108.3 403.4 L109.0 418.8 L111.2 415.2 L113.4 413.7 L115.6 424.0 L117.1 441.5 L118.6 431.3 L120.8 412.2 L123.7 409.3 L126.6 413.7 L127.8 403.4 L129.3 388.8 L134.0 384.7 Z" fill="#4f9fd6"/>
<path d="M28.8 384.7 L28.8 399.0 L30.0 392.0 L32.6 386.6 L34.8 395.0 L38.0 402.0 L40.4 403.0 L45.5 402.7 L50.0 396.0 L55.8 391.5 L59.0 396.7 L63.5 404.4 L66.7 402.4 L71.2 390.3 L75.0 396.7 L78.8 409.5 L84.0 412.0 L86.5 410.8 L89.1 401.8 L92.9 393.2 L96.6 388.8 L101.7 385.9 L102.0 384.7 Z" fill="#b27a4e" stroke="#4a3322" stroke-width="0.6"/>
<path d="M112.0 384.7 L114.2 391.7 L117.1 403.4 L119.3 399.0 L121.5 394.7 L123.7 402.0 L125.9 403.4 L127.4 394.7 L127.8 384.7 Z" fill="#b27a4e" stroke="#4a3322" stroke-width="0.6"/>
<path d="M63.5 346.3 V339.2 M69.5 346.3 V335.1" stroke="#8a2a2a" stroke-width="1.2"/>
<path d="M34.0 384.7 L34.6 380.3 L40.4 371.3 L44.2 364.2 L45.5 361.0 L53.2 346.3 L76.9 346.3 L78.2 348.2 L81.4 357.2 L85.9 364.9 L86.6 351.2 L87.3 355.8 L91.2 362.0 L95.9 370.2 L96.0 384.7 Z" fill="#86836e" stroke="#3a2f22" stroke-width="0.8"/>
<path d="M131.7 384.7 L132.5 379.2 L134.0 377.6 L135.6 376.1 L136.4 365.6 L140.3 365.6 L141.9 369.8 L145.0 372.2 L146.0 384.7 Z" fill="#86836e" stroke="#3a2f22" stroke-width="0.8"/>
<path d="M112.0 384.7 L112.8 367.6 L116.1 367.6 L116.9 361.2 L117.8 350.0 L118.6 341.5 L119.3 339.4 L121.4 339.4 L122.0 344.0 L122.7 354.6 L123.5 366.0 L124.0 369.2 L125.7 369.2 L126.3 384.7 Z" fill="#62aac2" stroke="#3a3a3a" stroke-width="0.6"/>
<rect x="86.6" y="370.2" width="19.9" height="14.5" fill="#ddd5e6" stroke="#bbb" stroke-width="0.5"/>
<line x1="127" x2="166.9" y1="384.7" y2="384.7" stroke="#a6a6a6" stroke-width="1.3"/>
<path d="M62.6 466 L64.2 481.8 M116.6 493 L117.3 521.8 M107 442 L108.4 466" stroke="#8a1f2a" stroke-width="0.9" fill="none"/>
<line x1="127.4" x2="127.4" y1="325" y2="533.3" stroke="#111" stroke-width="1.2"/>
<rect x="197.3" y="325" width="137.6" height="208.3" fill="#f1f1f1"/>
<line x1="197.3" x2="334.9" y1="533.1" y2="533.1" stroke="#d4d4d4" stroke-width="0.9"/>
<line x1="197.3" x2="334.9" y1="518.3" y2="518.3" stroke="#d4d4d4" stroke-width="0.9"/>
<line x1="197.3" x2="334.9" y1="503.4" y2="503.4" stroke="#d4d4d4" stroke-width="0.9"/>
<line x1="197.3" x2="334.9" y1="488.6" y2="488.6" stroke="#d4d4d4" stroke-width="0.9"/>
<line x1="197.3" x2="334.9" y1="473.7" y2="473.7" stroke="#d4d4d4" stroke-width="0.9"/>
<line x1="197.3" x2="334.9" y1="458.9" y2="458.9" stroke="#d4d4d4" stroke-width="0.9"/>
<line x1="197.3" x2="334.9" y1="444.1" y2="444.1" stroke="#d4d4d4" stroke-width="0.9"/>
<line x1="197.3" x2="334.9" y1="429.2" y2="429.2" stroke="#d4d4d4" stroke-width="0.9"/>
<line x1="197.3" x2="334.9" y1="414.4" y2="414.4" stroke="#d4d4d4" stroke-width="0.9"/>
<line x1="197.3" x2="334.9" y1="399.5" y2="399.5" stroke="#d4d4d4" stroke-width="0.9"/>
<line x1="197.3" x2="334.9" y1="384.7" y2="384.7" stroke="#d4d4d4" stroke-width="0.9"/>
<line x1="197.3" x2="334.9" y1="369.9" y2="369.9" stroke="#d4d4d4" stroke-width="0.9"/>
<line x1="197.3" x2="334.9" y1="355.0" y2="355.0" stroke="#d4d4d4" stroke-width="0.9"/>
<line x1="197.3" x2="334.9" y1="340.2" y2="340.2" stroke="#d4d4d4" stroke-width="0.9"/>
<line x1="197.3" x2="334.9" y1="325.3" y2="325.3" stroke="#d4d4d4" stroke-width="0.9"/>
<line x1="254.8" x2="254.8" y1="325" y2="533.3" stroke="#c6c6c6" stroke-width="0.7"/>
<line x1="314.3" x2="314.3" y1="325" y2="533.3" stroke="#c6c6c6" stroke-width="0.7"/>
<path d="M197.3 384.7 L201.1 386.6 L203.3 402.0 L207.7 416.6 L210.6 435.7 L212.8 448.9 L215.7 451.8 L218.7 448.9 L223.1 441.5 L225.7 440.9 L228.3 450.4 L230.9 466.1 L232.7 481.8 L234.4 477.4 L236.1 462.6 L238.8 447.0 L240.5 430.3 L244.0 438.0 L245.7 450.4 L249.2 460.9 L252.7 464.4 L255.3 466.1 L257.9 462.6 L260.5 453.9 L262.2 444.5 L264.4 435.7 L267.3 428.4 L271.0 422.5 L273.2 421.0 L274.6 423.2 L275.3 440.0 L277.1 467.9 L280.5 470.5 L283.1 473.1 L284.9 492.2 L285.8 521.8 L286.6 495.7 L288.4 474.8 L290.0 441.5 L292.2 434.2 L295.1 430.5 L296.9 426.9 L297.8 416.6 L299.5 402.0 L302.5 388.8 L304.7 384.7 Z" fill="#5a8994" stroke="#2a5560" stroke-width="0.7"/>
<path d="M284.9 492 L285.8 521.8 L286.6 495.7 Z" fill="#9cc0c8"/>
<path d="M202.5 384.7 L203.1 380.3 L208.9 371.3 L212.7 364.2 L214.0 361.0 L221.7 346.3 L245.4 346.3 L246.7 348.2 L249.9 357.2 L254.4 364.9 L255.1 351.2 L255.8 355.8 L259.7 362.0 L264.4 370.2 L264.5 384.7 Z" fill="#f7d77a" stroke="#c9a23e" stroke-width="0.8"/>
<path d="M232.0 346.3 V339.2 M238.0 346.3 V335.1" stroke="#d4ab48" stroke-width="1.2"/>
<path d="M300.2 384.7 L301.0 379.2 L302.5 377.6 L304.1 376.1 L304.9 365.6 L308.8 365.6 L310.4 369.8 L313.5 372.2 L314.5 384.7 Z" fill="#f7d77a" stroke="#c9a23e" stroke-width="0.8"/>
<path d="M280.5 384.7 L281.3 367.6 L284.6 367.6 L285.4 361.2 L286.3 350.0 L287.1 341.5 L287.8 339.4 L289.9 339.4 L290.5 344.0 L291.2 354.6 L292.0 366.0 L292.5 369.2 L294.2 369.2 L294.8 384.7 Z" fill="#f7d77a" stroke="#c9a23e" stroke-width="0.8"/>
<rect x="256.1" y="370.2" width="19" height="14.5" fill="#ddd5e6" stroke="#bbb" stroke-width="0.5"/>
<path d="M274.4 384.7 V391 H279.7 V384.7" fill="#5a8994" stroke="#2a5560" stroke-width="0.7"/>
<line x1="295.5" x2="334.9" y1="384.7" y2="384.7" stroke="#a6a6a6" stroke-width="1.3"/>
<circle cx="248.3" cy="384.7" r="2.2" fill="#e8e8ee" stroke="#b8a8c8" stroke-width="0.8"/>
<circle cx="248.3" cy="354.9" r="1.5" fill="#e8b830"/>
<circle cx="248.4" cy="458.1" r="1.5" fill="#1f3f48"/>
<line x1="295.4" x2="295.4" y1="325" y2="533.3" stroke="#111" stroke-width="1.2"/>
</svg>
<div style="position:absolute;left:18.00px;top:299.30px;width:122.00px;height:12.00px;display:flex;flex-direction:column;justify-content:center;overflow:visible;"><div style="font-size:6.95px;line-height:8.34px;color:#333;font-weight:normal;text-align:left;padding-left:4.9px;white-space:nowrap;text-shadow:none">Bid/Offer Volumes Summary</div></div>
<div style="position:absolute;left:186.00px;top:299.30px;width:134.00px;height:12.00px;display:flex;flex-direction:column;justify-content:center;overflow:visible;"><div style="font-size:6.95px;line-height:8.34px;color:#333;font-weight:normal;text-align:left;padding-left:5px;white-space:nowrap;text-shadow:none">Bid/Offer Volumes Summary</div></div>
<div style="position:absolute;left:0.00px;top:335.00px;width:23.60px;height:6.00px;display:flex;flex-direction:column;justify-content:center;overflow:visible;"><div style="font-size:5.1px;line-height:6.119999999999999px;color:#8a8a8a;font-weight:normal;text-align:right;letter-spacing:0.15px;text-shadow:none">600</div></div>
<div style="position:absolute;left:168.00px;top:335.00px;width:23.90px;height:6.00px;display:flex;flex-direction:column;justify-content:center;overflow:visible;"><div style="font-size:5.1px;line-height:6.119999999999999px;color:#8a8a8a;font-weight:normal;text-align:right;letter-spacing:0.15px;text-shadow:none">600</div></div>
<div style="position:absolute;left:0.00px;top:349.84px;width:23.60px;height:6.00px;display:flex;flex-direction:column;justify-content:center;overflow:visible;"><div style="font-size:5.1px;line-height:6.119999999999999px;color:#8a8a8a;font-weight:normal;text-align:right;letter-spacing:0.15px;text-shadow:none">400</div></div>
<div style="position:absolute;left:168.00px;top:349.84px;width:23.90px;height:6.00px;display:flex;flex-direction:column;justify-content:center;overflow:visible;"><div style="font-size:5.1px;line-height:6.119999999999999px;color:#8a8a8a;font-weight:normal;text-align:right;letter-spacing:0.15px;text-shadow:none">400</div></div>
<div style="position:absolute;left:0.00px;top:364.68px;width:23.60px;height:6.00px;display:flex;flex-direction:column;justify-content:center;overflow:visible;"><div style="font-size:5.1px;line-height:6.119999999999999px;color:#8a8a8a;font-weight:normal;text-align:right;letter-spacing:0.15px;text-shadow:none">200</div></div>
<div style="position:absolute;left:168.00px;top:364.68px;width:23.90px;height:6.00px;display:flex;flex-direction:column;justify-content:center;overflow:visible;"><div style="font-size:5.1px;line-height:6.119999999999999px;color:#8a8a8a;font-weight:normal;text-align:right;letter-spacing:0.15px;text-shadow:none">200</div></div>
<div style="position:absolute;left:0.00px;top:379.52px;width:23.60px;height:6.00px;display:flex;flex-direction:column;justify-content:center;overflow:visible;"><div style="font-size:5.1px;line-height:6.119999999999999px;color:#8a8a8a;font-weight:normal;text-align:right;letter-spacing:0.15px;text-shadow:none">0</div></div>
<div style="position:absolute;left:168.00px;top:379.52px;width:23.90px;height:6.00px;display:flex;flex-direction:column;justify-content:center;overflow:visible;"><div style="font-size:5.1px;line-height:6.119999999999999px;color:#8a8a8a;font-weight:normal;text-align:right;letter-spacing:0.15px;text-shadow:none">0</div></div>
<div style="position:absolute;left:0.00px;top:394.36px;width:23.60px;height:6.00px;display:flex;flex-direction:column;justify-content:center;overflow:visible;"><div style="font-size:5.1px;line-height:6.119999999999999px;color:#8a8a8a;font-weight:normal;text-align:right;letter-spacing:0.15px;text-shadow:none">-200</div></div>
<div style="position:absolute;left:168.00px;top:394.36px;width:23.90px;height:6.00px;display:flex;flex-direction:column;justify-content:center;overflow:visible;"><div style="font-size:5.1px;line-height:6.119999999999999px;color:#8a8a8a;font-weight:normal;text-align:right;letter-spacing:0.15px;text-shadow:none">-200</div></div>
<div style="position:absolute;left:0.00px;top:409.20px;width:23.60px;height:6.00px;display:flex;flex-direction:column;justify-content:center;overflow:visible;"><div style="font-size:5.1px;line-height:6.119999999999999px;color:#8a8a8a;font-weight:normal;text-align:right;letter-spacing:0.15px;text-shadow:none">-400</div></div>
<div style="position:absolute;left:168.00px;top:409.20px;width:23.90px;height:6.00px;display:flex;flex-direction:column;justify-content:center;overflow:visible;"><div style="font-size:5.1px;line-height:6.119999999999999px;color:#8a8a8a;font-weight:normal;text-align:right;letter-spacing:0.15px;text-shadow:none">-400</div></div>
<div style="position:absolute;left:0.00px;top:424.04px;width:23.60px;height:6.00px;display:flex;flex-direction:column;justify-content:center;overflow:visible;"><div style="font-size:5.1px;line-height:6.119999999999999px;color:#8a8a8a;font-weight:normal;text-align:right;letter-spacing:0.15px;text-shadow:none">-600</div></div>
<div style="position:absolute;left:168.00px;top:424.04px;width:23.90px;height:6.00px;display:flex;flex-direction:column;justify-content:center;overflow:visible;"><div style="font-size:5.1px;line-height:6.119999999999999px;color:#8a8a8a;font-weight:normal;text-align:right;letter-spacing:0.15px;text-shadow:none">-600</div></div>
<div style="position:absolute;left:0.00px;top:438.88px;width:23.60px;height:6.00px;display:flex;flex-direction:column;justify-content:center;overflow:visible;"><div style="font-size:5.1px;line-height:6.119999999999999px;color:#8a8a8a;font-weight:normal;text-align:right;letter-spacing:0.15px;text-shadow:none">-800</div></div>
<div style="position:absolute;left:168.00px;top:438.88px;width:23.90px;height:6.00px;display:flex;flex-direction:column;justify-content:center;overflow:visible;"><div style="font-size:5.1px;line-height:6.119999999999999px;color:#8a8a8a;font-weight:normal;text-align:right;letter-spacing:0.15px;text-shadow:none">-800</div></div>
<div style="position:absolute;left:0.00px;top:453.72px;width:23.60px;height:6.00px;display:flex;flex-direction:column;justify-content:center;overflow:visible;"><div style="font-size:5.1px;line-height:6.119999999999999px;color:#8a8a8a;font-weight:normal;text-align:right;letter-spacing:0.15px;text-shadow:none">-1,000</div></div>
<div style="position:absolute;left:168.00px;top:453.72px;width:23.90px;height:6.00px;display:flex;flex-direction:column;justify-content:center;overflow:visible;"><div style="font-size:5.1px;line-height:6.119999999999999px;color:#8a8a8a;font-weight:normal;text-align:right;letter-spacing:0.15px;text-shadow:none">-1,000</div></div>
<div style="position:absolute;left:0.00px;top:468.56px;width:23.60px;height:6.00px;display:flex;flex-direction:column;justify-content:center;overflow:visible;"><div style="font-size:5.1px;line-height:6.119999999999999px;color:#8a8a8a;font-weight:normal;text-align:right;letter-spacing:0.15px;text-shadow:none">-1,200</div></div>
<div style="position:absolute;left:168.00px;top:468.56px;width:23.90px;height:6.00px;display:flex;flex-direction:column;justify-content:center;overflow:visible;"><div style="font-size:5.1px;line-height:6.119999999999999px;color:#8a8a8a;font-weight:normal;text-align:right;letter-spacing:0.15px;text-shadow:none">-1,200</div></div>
<div style="position:absolute;left:0.00px;top:483.40px;width:23.60px;height:6.00px;display:flex;flex-direction:column;justify-content:center;overflow:visible;"><div style="font-size:5.1px;line-height:6.119999999999999px;color:#8a8a8a;font-weight:normal;text-align:right;letter-spacing:0.15px;text-shadow:none">-1,400</div></div>
<div style="position:absolute;left:168.00px;top:483.40px;width:23.90px;height:6.00px;display:flex;flex-direction:column;justify-content:center;overflow:visible;"><div style="font-size:5.1px;line-height:6.119999999999999px;color:#8a8a8a;font-weight:normal;text-align:right;letter-spacing:0.15px;text-shadow:none">-1,400</div></div>
<div style="position:absolute;left:0.00px;top:498.24px;width:23.60px;height:6.00px;display:flex;flex-direction:column;justify-content:center;overflow:visible;"><div style="font-size:5.1px;line-height:6.119999999999999px;color:#8a8a8a;font-weight:normal;text-align:right;letter-spacing:0.15px;text-shadow:none">-1,600</div></div>
<div style="position:absolute;left:168.00px;top:498.24px;width:23.90px;height:6.00px;display:flex;flex-direction:column;justify-content:center;overflow:visible;"><div style="font-size:5.1px;line-height:6.119999999999999px;color:#8a8a8a;font-weight:normal;text-align:right;letter-spacing:0.15px;text-shadow:none">-1,600</div></div>
<div style="position:absolute;left:0.00px;top:513.08px;width:23.60px;height:6.00px;display:flex;flex-direction:column;justify-content:center;overflow:visible;"><div style="font-size:5.1px;line-height:6.119999999999999px;color:#8a8a8a;font-weight:normal;text-align:right;letter-spacing:0.15px;text-shadow:none">-1,800</div></div>
<div style="position:absolute;left:168.00px;top:513.08px;width:23.90px;height:6.00px;display:flex;flex-direction:column;justify-content:center;overflow:visible;"><div style="font-size:5.1px;line-height:6.119999999999999px;color:#8a8a8a;font-weight:normal;text-align:right;letter-spacing:0.15px;text-shadow:none">-1,800</div></div>
<div style="position:absolute;left:0.00px;top:527.92px;width:23.60px;height:6.00px;display:flex;flex-direction:column;justify-content:center;overflow:visible;"><div style="font-size:5.1px;line-height:6.119999999999999px;color:#8a8a8a;font-weight:normal;text-align:right;letter-spacing:0.15px;text-shadow:none">-2,000</div></div>
<div style="position:absolute;left:168.00px;top:527.92px;width:23.90px;height:6.00px;display:flex;flex-direction:column;justify-content:center;overflow:visible;"><div style="font-size:5.1px;line-height:6.119999999999999px;color:#8a8a8a;font-weight:normal;text-align:right;letter-spacing:0.15px;text-shadow:none">-2,000</div></div>
<div style="position:absolute;left:76.30px;top:536.10px;width:20.00px;height:6.00px;display:flex;flex-direction:column;justify-content:center;overflow:visible;"><div style="font-size:4.1px;line-height:4.919999999999999px;color:#4a4a4a;font-weight:normal;text-align:center;;text-shadow:none">16:00</div></div>
<div style="position:absolute;left:135.80px;top:536.10px;width:20.00px;height:6.00px;display:flex;flex-direction:column;justify-content:center;overflow:visible;"><div style="font-size:4.1px;line-height:4.919999999999999px;color:#4a4a4a;font-weight:normal;text-align:center;;text-shadow:none">18:00</div></div>
<div style="position:absolute;left:100.00px;top:540.30px;width:67.00px;height:5.70px;display:flex;flex-direction:column;justify-content:center;overflow:visible;"><div style="font-size:4.26px;line-height:5.111999999999999px;color:#777;font-weight:normal;text-align:right;;text-shadow:none">Powered By EnAppSys</div></div>
<div style="position:absolute;left:244.80px;top:536.10px;width:20.00px;height:6.00px;display:flex;flex-direction:column;justify-content:center;overflow:visible;"><div style="font-size:4.1px;line-height:4.919999999999999px;color:#4a4a4a;font-weight:normal;text-align:center;;text-shadow:none">16:00</div></div>
<div style="position:absolute;left:304.30px;top:536.10px;width:20.00px;height:6.00px;display:flex;flex-direction:column;justify-content:center;overflow:visible;"><div style="font-size:4.1px;line-height:4.919999999999999px;color:#4a4a4a;font-weight:normal;text-align:center;;text-shadow:none">18:00</div></div>
<div style="position:absolute;left:268.50px;top:540.30px;width:67.00px;height:5.70px;display:flex;flex-direction:column;justify-content:center;overflow:visible;"><div style="font-size:4.26px;line-height:5.111999999999999px;color:#777;font-weight:normal;text-align:right;;text-shadow:none">Powered By EnAppSys</div></div>
<svg width="681" height="546" viewBox="0 0 681 546" style="position:absolute;left:0;top:0">
<rect x="362.5" y="313.1" width="141.2" height="93.69999999999999" fill="#efefef"/>
<line x1="362.5" x2="503.7" y1="324.4" y2="324.4" stroke="#d2d2d2" stroke-width="0.9"/>
<line x1="362.5" x2="503.7" y1="334.6" y2="334.6" stroke="#d2d2d2" stroke-width="0.9"/>
<line x1="362.5" x2="503.7" y1="344.9" y2="344.9" stroke="#d2d2d2" stroke-width="0.9"/>
<line x1="362.5" x2="503.7" y1="355.1" y2="355.1" stroke="#d2d2d2" stroke-width="0.9"/>
<line x1="362.5" x2="503.7" y1="365.4" y2="365.4" stroke="#d2d2d2" stroke-width="0.9"/>
<line x1="362.5" x2="503.7" y1="375.6" y2="375.6" stroke="#d2d2d2" stroke-width="0.9"/>
<line x1="362.5" x2="503.7" y1="385.9" y2="385.9" stroke="#d2d2d2" stroke-width="0.9"/>
<line x1="362.5" x2="503.7" y1="396.1" y2="396.1" stroke="#d2d2d2" stroke-width="0.9"/>
<line x1="362.5" x2="503.7" y1="406.4" y2="406.4" stroke="#d2d2d2" stroke-width="0.9"/>
<line x1="422.2" x2="422.2" y1="313.1" y2="406.8" stroke="#bdbdbd" stroke-width="0.7"/>
<line x1="482.3" x2="482.3" y1="313.1" y2="406.8" stroke="#bdbdbd" stroke-width="0.7"/>
<rect x="362.5" y="313.1" width="120.0" height="58.89999999999998" fill="#b2d7e1"/>
<path d="M362.5 313.1 L482.5 313.1 L482.5 358.4 L470.0 358.0 L455.0 357.0 L440.0 355.6 L430.0 356.5 L420.0 352.5 L410.0 351.0 L400.0 349.5 L395.0 349.2 L388.0 350.5 L380.0 351.5 L370.0 352.8 L362.5 353.2 Z" fill="#97c5d1"/>
<path d="M362.5 313.1 L482.5 313.1 L482.5 322.0 L470.0 321.5 L460.0 320.8 L445.0 319.8 L433.0 318.5 L425.0 317.5 L410.0 316.8 L400.0 316.5 L385.0 316.8 L375.0 317.2 L362.5 317.5 Z" fill="#86b9c7"/>
<path d="M362.5 372 L400 371.5 L420 373.5 L440 377.5 L460 378.8 L482.5 379.2 L482.5 381 L362.5 381 Z" fill="#c6e2e9"/>
<path d="M362.5 371.1 L364.0 373.5 L384.0 373.5 L384.0 371.0 L400.0 371.8 L420.0 375.0 L435.0 378.6 L460.0 379.2 L482.5 379.6 L482.5 396.7 L470.0 396.5 L455.0 396.0 L435.0 393.7 L420.0 390.5 L400.0 386.8 L384.0 386.6 L384.0 388.0 L362.5 388.0 Z" fill="#4b4b4b"/>
<line x1="422.2" x2="422.2" y1="313.1" y2="406.8" stroke="#7a9aa4" stroke-width="0.6" opacity="0.35"/>
<line x1="463.5" x2="463.5" y1="313.1" y2="406.8" stroke="#111" stroke-width="1.2"/>
<rect x="532.0" y="312.7" width="139.70000000000005" height="94.10000000000002" fill="#efefef"/>
<line x1="532.0" x2="671.7" y1="406.5" y2="406.5" stroke="#d2d2d2" stroke-width="0.9"/>
<line x1="532.0" x2="671.7" y1="398.1" y2="398.1" stroke="#d2d2d2" stroke-width="0.9"/>
<line x1="532.0" x2="671.7" y1="389.6" y2="389.6" stroke="#d2d2d2" stroke-width="0.9"/>
<line x1="532.0" x2="671.7" y1="381.1" y2="381.1" stroke="#d2d2d2" stroke-width="0.9"/>
<line x1="532.0" x2="671.7" y1="372.7" y2="372.7" stroke="#d2d2d2" stroke-width="0.9"/>
<line x1="532.0" x2="671.7" y1="364.2" y2="364.2" stroke="#d2d2d2" stroke-width="0.9"/>
<line x1="532.0" x2="671.7" y1="355.8" y2="355.8" stroke="#d2d2d2" stroke-width="0.9"/>
<line x1="532.0" x2="671.7" y1="347.4" y2="347.4" stroke="#d2d2d2" stroke-width="0.9"/>
<line x1="532.0" x2="671.7" y1="338.9" y2="338.9" stroke="#d2d2d2" stroke-width="0.9"/>
<line x1="532.0" x2="671.7" y1="330.4" y2="330.4" stroke="#d2d2d2" stroke-width="0.9"/>
<line x1="532.0" x2="671.7" y1="322.0" y2="322.0" stroke="#d2d2d2" stroke-width="0.9"/>
<line x1="532.0" x2="671.7" y1="313.6" y2="313.6" stroke="#d2d2d2" stroke-width="0.9"/>
<line x1="590.3" x2="590.3" y1="312.7" y2="406.8" stroke="#bdbdbd" stroke-width="0.7"/>
<line x1="650.3" x2="650.3" y1="312.7" y2="406.8" stroke="#bdbdbd" stroke-width="0.7"/>
<path d="M532.0 406.8 L532.0 362.5 L536.0 362.5 L536.0 367.5 L551.2 357.0 L561.3 357.0 L564.3 363.5 L568.3 363.5 L569.8 361.0 L571.0 367.5 L575.0 357.4 L577.8 353.4 L579.0 359.4 L583.5 357.8 L589.5 359.0 L592.5 357.8 L597.0 349.4 L600.0 349.0 L605.0 347.3 L616.0 348.3 L619.6 353.0 L620.4 353.0 L620.4 328.3 L631.0 326.5 L632.0 323.7 L640.2 322.5 L640.2 349.4 L650.5 349.4 L650.5 322.7 L661.0 339.0 L661.0 406.8 Z" fill="#7f7b6d"/>
<path d="M532.0 406.8 L532.0 369.0 L535.0 367.5 L545.2 360.4 L551.2 357.0 L561.3 357.0 L564.3 363.5 L568.3 363.5 L569.8 361.0 L571.0 367.5 L575.0 357.4 L577.8 353.4 L579.0 359.4 L583.5 357.8 L589.5 359.0 L592.5 357.8 L597.0 353.4 L605.0 352.4 L616.0 353.4 L620.4 354.0 L620.4 332.9 L631.0 331.0 L632.0 329.2 L640.2 327.4 L640.2 355.0 L650.5 355.0 L650.5 323.1 L661.0 342.3 L661.0 406.8 Z" fill="#4d9bd3"/>
<path d="M532.0 406.8 L532.0 369.1 L541.0 367.5 L562.3 367.5 L563.3 372.5 L567.3 373.1 L573.4 365.5 L580.4 359.4 L585.5 359.0 L590.5 361.5 L593.0 357.8 L605.1 356.4 L616.2 357.8 L620.2 361.5 L632.3 361.5 L632.3 357.8 L661.0 357.8 L661.0 406.8 Z" fill="#9d7352"/>
<path d="M532.0 406.8 L532.0 385.6 L567.3 385.6 L582.5 366.5 L661.0 366.5 L661.0 406.8 Z" fill="#f6ef3c"/>
<line x1="631.9" x2="631.9" y1="312.7" y2="406.8" stroke="#111" stroke-width="1.2"/>
<rect x="363.7" y="447.3" width="140.10000000000002" height="86.09999999999997" fill="#efefef"/>
<line x1="363.7" x2="503.8" y1="533.0" y2="533.0" stroke="#d2d2d2" stroke-width="0.9"/>
<line x1="363.7" x2="503.8" y1="525.3" y2="525.3" stroke="#d2d2d2" stroke-width="0.9"/>
<line x1="363.7" x2="503.8" y1="517.6" y2="517.6" stroke="#d2d2d2" stroke-width="0.9"/>
<line x1="363.7" x2="503.8" y1="509.8" y2="509.8" stroke="#d2d2d2" stroke-width="0.9"/>
<line x1="363.7" x2="503.8" y1="502.1" y2="502.1" stroke="#d2d2d2" stroke-width="0.9"/>
<line x1="363.7" x2="503.8" y1="494.4" y2="494.4" stroke="#d2d2d2" stroke-width="0.9"/>
<line x1="363.7" x2="503.8" y1="486.7" y2="486.7" stroke="#d2d2d2" stroke-width="0.9"/>
<line x1="363.7" x2="503.8" y1="479.0" y2="479.0" stroke="#d2d2d2" stroke-width="0.9"/>
<line x1="363.7" x2="503.8" y1="471.2" y2="471.2" stroke="#d2d2d2" stroke-width="0.9"/>
<line x1="363.7" x2="503.8" y1="463.5" y2="463.5" stroke="#d2d2d2" stroke-width="0.9"/>
<line x1="363.7" x2="503.8" y1="455.8" y2="455.8" stroke="#d2d2d2" stroke-width="0.9"/>
<line x1="422.5" x2="422.5" y1="447.3" y2="533.4" stroke="#bdbdbd" stroke-width="0.7"/>
<line x1="482.5" x2="482.5" y1="447.3" y2="533.4" stroke="#bdbdbd" stroke-width="0.7"/>
<path d="M363.7 533.4 L363.7 492.2 L365.1 493.1 L368.2 504.1 L368.8 509.6 L369.2 488.5 L371.0 485.8 L373.7 483.0 L375.6 479.4 L377.4 478.5 L378.3 479.4 L379.2 462.9 L381.1 462.9 L383.8 467.5 L387.5 472.0 L390.2 473.9 L393.0 473.0 L395.7 470.2 L398.5 462.0 L401.2 456.5 L404.0 463.8 L406.7 476.6 L408.5 473.0 L412.2 471.1 L414.9 472.0 L417.7 473.9 L422.3 481.2 L425.9 485.8 L428.7 489.5 L432.3 496.8 L436.0 507.8 L439.7 514.2 L442.4 512.3 L444.2 500.4 L447.0 495.9 L450.6 490.4 L453.4 482.1 L455.2 487.6 L457.0 496.8 L459.8 501.4 L461.6 498.6 L462.5 501.4 L463.5 510.5 L467.1 516.9 L471.7 523.3 L475.4 524.2 L479.0 521.5 L482.1 519.7 L482.4 533.4 Z" fill="#8e3a2d"/>
<path d="M363.7 533.4 L363.7 494.6 L365.1 495.5 L368.2 506.5 L368.8 512.0 L369.2 490.9 L371.0 488.2 L373.7 485.4 L375.6 481.8 L377.4 480.9 L378.3 481.8 L379.2 465.3 L381.1 465.3 L383.8 469.9 L387.5 474.4 L390.2 476.3 L393.0 475.4 L395.7 472.6 L398.5 464.4 L401.2 458.9 L404.0 466.2 L406.7 479.0 L408.5 475.4 L412.2 473.5 L414.9 474.4 L417.7 476.3 L422.3 483.6 L425.9 488.2 L428.7 491.9 L432.3 499.2 L436.0 510.2 L439.7 516.6 L442.4 514.7 L444.2 502.8 L447.0 498.3 L450.6 492.8 L453.4 484.5 L455.2 490.0 L457.0 499.2 L459.8 503.8 L461.6 501.0 L462.5 503.8 L463.5 512.9 L467.1 519.3 L471.7 525.7 L475.4 526.6 L479.0 523.9 L482.1 522.1 L482.4 533.4 Z" fill="#e3b35a"/>
<path d="M363.7 533.4 L363.7 497.4 L365.1 498.3 L368.2 509.3 L368.8 514.8 L369.2 493.7 L371.0 491.0 L373.7 488.2 L375.6 484.6 L377.4 483.7 L378.3 484.6 L379.2 468.1 L381.1 468.1 L383.8 472.7 L387.5 477.2 L390.2 479.1 L393.0 478.2 L395.7 475.4 L398.5 467.2 L401.2 461.7 L404.0 469.0 L406.7 481.8 L408.5 478.2 L412.2 476.3 L414.9 477.2 L417.7 479.1 L422.3 486.4 L425.9 491.0 L428.7 494.7 L432.3 502.0 L436.0 513.0 L439.7 519.4 L442.4 517.5 L444.2 505.6 L447.0 501.1 L450.6 495.6 L453.4 487.3 L455.2 492.8 L457.0 502.0 L459.8 506.6 L461.6 503.8 L462.5 506.6 L463.5 513.7 L467.1 520.1 L471.7 526.5 L475.4 527.4 L479.0 524.7 L482.1 522.9 L482.4 533.4 Z" fill="#f6d37a"/>
<path d="M363.7 533.4 L363.7 522.0 L370.0 525.0 L378.0 520.0 L382.0 517.5 L386.0 519.0 L392.0 521.0 L398.0 518.0 L401.2 515.5 L404.0 519.0 L410.0 522.0 L420.0 524.0 L430.0 525.0 L440.0 524.0 L445.0 521.0 L450.0 523.0 L455.0 522.0 L460.0 526.0 L470.0 529.0 L482.4 530.0 L482.4 533.4 Z" fill="#f4dc9a" opacity="0.8"/>
<path d="M363.7 533.4 L363.7 529 L380 530 L400 528 L420 530 L440 530 L445 526 L450 524 L455 526 L460 530 L482 531 L482 533.4 Z" fill="#f8e8bc" opacity="0.75"/>
<path d="M464.2 533.4 V514 L467.1 520 L471.7 526 L475.4 527 L479 524.5 L482.1 523 L482.4 533.4 Z" fill="#f8e2a4" opacity="0.6"/>
<line x1="463.8" x2="463.8" y1="447.3" y2="533.4" stroke="#222" stroke-width="1.2"/>
</svg>
<div style="position:absolute;left:360.00px;top:301.30px;width:110.00px;height:10.00px;display:flex;flex-direction:column;justify-content:center;overflow:visible;"><div style="font-size:4.2px;line-height:5.04px;color:#222;font-weight:normal;text-align:left;padding-left:13.7px;white-space:nowrap">Bid to SEL Volumes Summary</div></div>
<div style="position:absolute;left:340.00px;top:318.90px;width:17.00px;height:6.00px;display:flex;flex-direction:column;justify-content:center;overflow:visible;"><div style="font-size:4.8px;line-height:5.76px;color:#707070;font-weight:normal;text-align:right;;text-shadow:none">-2k</div></div>
<div style="position:absolute;left:340.00px;top:329.30px;width:17.00px;height:6.00px;display:flex;flex-direction:column;justify-content:center;overflow:visible;"><div style="font-size:4.8px;line-height:5.76px;color:#707070;font-weight:normal;text-align:right;;text-shadow:none">-4k</div></div>
<div style="position:absolute;left:340.00px;top:339.70px;width:17.00px;height:6.00px;display:flex;flex-direction:column;justify-content:center;overflow:visible;"><div style="font-size:4.8px;line-height:5.76px;color:#707070;font-weight:normal;text-align:right;;text-shadow:none">-6k</div></div>
<div style="position:absolute;left:340.00px;top:350.10px;width:17.00px;height:6.00px;display:flex;flex-direction:column;justify-content:center;overflow:visible;"><div style="font-size:4.8px;line-height:5.76px;color:#707070;font-weight:normal;text-align:right;;text-shadow:none">-8k</div></div>
<div style="position:absolute;left:340.00px;top:360.50px;width:17.00px;height:6.00px;display:flex;flex-direction:column;justify-content:center;overflow:visible;"><div style="font-size:4.8px;line-height:5.76px;color:#707070;font-weight:normal;text-align:right;;text-shadow:none">-10k</div></div>
<div style="position:absolute;left:340.00px;top:370.90px;width:17.00px;height:6.00px;display:flex;flex-direction:column;justify-content:center;overflow:visible;"><div style="font-size:4.8px;line-height:5.76px;color:#707070;font-weight:normal;text-align:right;;text-shadow:none">-12k</div></div>
<div style="position:absolute;left:340.00px;top:381.30px;width:17.00px;height:6.00px;display:flex;flex-direction:column;justify-content:center;overflow:visible;"><div style="font-size:4.8px;line-height:5.76px;color:#707070;font-weight:normal;text-align:right;;text-shadow:none">-14k</div></div>
<div style="position:absolute;left:340.00px;top:391.70px;width:17.00px;height:6.00px;display:flex;flex-direction:column;justify-content:center;overflow:visible;"><div style="font-size:4.8px;line-height:5.76px;color:#707070;font-weight:normal;text-align:right;;text-shadow:none">-16k</div></div>
<div style="position:absolute;left:340.00px;top:402.10px;width:17.00px;height:6.00px;display:flex;flex-direction:column;justify-content:center;overflow:visible;"><div style="font-size:4.8px;line-height:5.76px;color:#707070;font-weight:normal;text-align:right;;text-shadow:none">-18k</div></div>
<div style="position:absolute;left:412.00px;top:409.60px;width:20.00px;height:6.00px;display:flex;flex-direction:column;justify-content:center;overflow:visible;"><div style="font-size:4.2px;line-height:5.04px;color:#4a4a4a;font-weight:normal;text-align:center;;text-shadow:none">16:00</div></div>
<div style="position:absolute;left:472.00px;top:409.60px;width:20.00px;height:6.00px;display:flex;flex-direction:column;justify-content:center;overflow:visible;"><div style="font-size:4.2px;line-height:5.04px;color:#4a4a4a;font-weight:normal;text-align:center;;text-shadow:none">18:00</div></div>
<div style="position:absolute;left:440.00px;top:414.20px;width:64.00px;height:5.50px;display:flex;flex-direction:column;justify-content:center;overflow:visible;"><div style="font-size:4.3px;line-height:5.159999999999999px;color:#555;font-weight:normal;text-align:right;;text-shadow:none">Powered By EnAppSys</div></div>
<div style="position:absolute;left:530.00px;top:301.30px;width:110.00px;height:10.00px;display:flex;flex-direction:column;justify-content:center;overflow:visible;"><div style="font-size:4.25px;line-height:5.1px;color:#222;font-weight:normal;text-align:left;padding-left:14.3px;white-space:nowrap">Imbalance (Trial) Summary</div></div>
<div style="position:absolute;left:500.00px;top:317.10px;width:26.50px;height:6.00px;display:flex;flex-direction:column;justify-content:center;overflow:visible;"><div style="font-size:4.8px;line-height:5.76px;color:#8a8a8a;font-weight:normal;text-align:right;;text-shadow:none">1,000</div></div>
<div style="position:absolute;left:500.00px;top:325.55px;width:26.50px;height:6.00px;display:flex;flex-direction:column;justify-content:center;overflow:visible;"><div style="font-size:4.8px;line-height:5.76px;color:#8a8a8a;font-weight:normal;text-align:right;;text-shadow:none">900</div></div>
<div style="position:absolute;left:500.00px;top:334.00px;width:26.50px;height:6.00px;display:flex;flex-direction:column;justify-content:center;overflow:visible;"><div style="font-size:4.8px;line-height:5.76px;color:#8a8a8a;font-weight:normal;text-align:right;;text-shadow:none">800</div></div>
<div style="position:absolute;left:500.00px;top:342.45px;width:26.50px;height:6.00px;display:flex;flex-direction:column;justify-content:center;overflow:visible;"><div style="font-size:4.8px;line-height:5.76px;color:#8a8a8a;font-weight:normal;text-align:right;;text-shadow:none">700</div></div>
<div style="position:absolute;left:500.00px;top:350.90px;width:26.50px;height:6.00px;display:flex;flex-direction:column;justify-content:center;overflow:visible;"><div style="font-size:4.8px;line-height:5.76px;color:#8a8a8a;font-weight:normal;text-align:right;;text-shadow:none">600</div></div>
<div style="position:absolute;left:500.00px;top:359.35px;width:26.50px;height:6.00px;display:flex;flex-direction:column;justify-content:center;overflow:visible;"><div style="font-size:4.8px;line-height:5.76px;color:#8a8a8a;font-weight:normal;text-align:right;;text-shadow:none">500</div></div>
<div style="position:absolute;left:500.00px;top:367.80px;width:26.50px;height:6.00px;display:flex;flex-direction:column;justify-content:center;overflow:visible;"><div style="font-size:4.8px;line-height:5.76px;color:#8a8a8a;font-weight:normal;text-align:right;;text-shadow:none">400</div></div>
<div style="position:absolute;left:500.00px;top:376.25px;width:26.50px;height:6.00px;display:flex;flex-direction:column;justify-content:center;overflow:visible;"><div style="font-size:4.8px;line-height:5.76px;color:#8a8a8a;font-weight:normal;text-align:right;;text-shadow:none">300</div></div>
<div style="position:absolute;left:500.00px;top:384.70px;width:26.50px;height:6.00px;display:flex;flex-direction:column;justify-content:center;overflow:visible;"><div style="font-size:4.8px;line-height:5.76px;color:#8a8a8a;font-weight:normal;text-align:right;;text-shadow:none">200</div></div>
<div style="position:absolute;left:500.00px;top:393.15px;width:26.50px;height:6.00px;display:flex;flex-direction:column;justify-content:center;overflow:visible;"><div style="font-size:4.8px;line-height:5.76px;color:#8a8a8a;font-weight:normal;text-align:right;;text-shadow:none">100</div></div>
<div style="position:absolute;left:500.00px;top:401.60px;width:26.50px;height:6.00px;display:flex;flex-direction:column;justify-content:center;overflow:visible;"><div style="font-size:4.8px;line-height:5.76px;color:#8a8a8a;font-weight:normal;text-align:right;;text-shadow:none">0</div></div>
<div style="position:absolute;left:580.00px;top:409.10px;width:20.00px;height:6.00px;display:flex;flex-direction:column;justify-content:center;overflow:visible;"><div style="font-size:4.2px;line-height:5.04px;color:#4a4a4a;font-weight:normal;text-align:center;;text-shadow:none">16:00</div></div>
<div style="position:absolute;left:640.00px;top:409.10px;width:20.00px;height:6.00px;display:flex;flex-direction:column;justify-content:center;overflow:visible;"><div style="font-size:4.2px;line-height:5.04px;color:#4a4a4a;font-weight:normal;text-align:center;;text-shadow:none">18:00</div></div>
<div style="position:absolute;left:600.00px;top:413.20px;width:72.00px;height:5.50px;display:flex;flex-direction:column;justify-content:center;overflow:visible;"><div style="font-size:4.3px;line-height:5.159999999999999px;color:#555;font-weight:normal;text-align:right;;text-shadow:none">Powered By EnAppSys</div></div>
<div style="position:absolute;left:360.00px;top:427.30px;width:120.00px;height:10.00px;display:flex;flex-direction:column;justify-content:center;overflow:visible;"><div style="font-size:4.28px;line-height:5.136px;color:#222;font-weight:normal;text-align:left;padding-left:7px;white-space:nowrap">System Margin Summary At Online Generators</div></div>
<div style="position:absolute;left:330.00px;top:450.90px;width:28.00px;height:6.00px;display:flex;flex-direction:column;justify-content:center;overflow:visible;"><div style="font-size:4.9px;line-height:5.88px;color:#8a8a8a;font-weight:normal;text-align:right;;text-shadow:none">2,500</div></div>
<div style="position:absolute;left:330.00px;top:458.62px;width:28.00px;height:6.00px;display:flex;flex-direction:column;justify-content:center;overflow:visible;"><div style="font-size:4.9px;line-height:5.88px;color:#8a8a8a;font-weight:normal;text-align:right;;text-shadow:none">2,250</div></div>
<div style="position:absolute;left:330.00px;top:466.34px;width:28.00px;height:6.00px;display:flex;flex-direction:column;justify-content:center;overflow:visible;"><div style="font-size:4.9px;line-height:5.88px;color:#8a8a8a;font-weight:normal;text-align:right;;text-shadow:none">2,000</div></div>
<div style="position:absolute;left:330.00px;top:474.06px;width:28.00px;height:6.00px;display:flex;flex-direction:column;justify-content:center;overflow:visible;"><div style="font-size:4.9px;line-height:5.88px;color:#8a8a8a;font-weight:normal;text-align:right;;text-shadow:none">1,750</div></div>
<div style="position:absolute;left:330.00px;top:481.78px;width:28.00px;height:6.00px;display:flex;flex-direction:column;justify-content:center;overflow:visible;"><div style="font-size:4.9px;line-height:5.88px;color:#8a8a8a;font-weight:normal;text-align:right;;text-shadow:none">1,500</div></div>
<div style="position:absolute;left:330.00px;top:489.50px;width:28.00px;height:6.00px;display:flex;flex-direction:column;justify-content:center;overflow:visible;"><div style="font-size:4.9px;line-height:5.88px;color:#8a8a8a;font-weight:normal;text-align:right;;text-shadow:none">1,250</div></div>
<div style="position:absolute;left:330.00px;top:497.22px;width:28.00px;height:6.00px;display:flex;flex-direction:column;justify-content:center;overflow:visible;"><div style="font-size:4.9px;line-height:5.88px;color:#8a8a8a;font-weight:normal;text-align:right;;text-shadow:none">1,000</div></div>
<div style="position:absolute;left:330.00px;top:504.94px;width:28.00px;height:6.00px;display:flex;flex-direction:column;justify-content:center;overflow:visible;"><div style="font-size:4.9px;line-height:5.88px;color:#8a8a8a;font-weight:normal;text-align:right;;text-shadow:none">750</div></div>
<div style="position:absolute;left:330.00px;top:512.66px;width:28.00px;height:6.00px;display:flex;flex-direction:column;justify-content:center;overflow:visible;"><div style="font-size:4.9px;line-height:5.88px;color:#8a8a8a;font-weight:normal;text-align:right;;text-shadow:none">500</div></div>
<div style="position:absolute;left:330.00px;top:520.38px;width:28.00px;height:6.00px;display:flex;flex-direction:column;justify-content:center;overflow:visible;"><div style="font-size:4.9px;line-height:5.88px;color:#8a8a8a;font-weight:normal;text-align:right;;text-shadow:none">250</div></div>
<div style="position:absolute;left:330.00px;top:528.10px;width:28.00px;height:6.00px;display:flex;flex-direction:column;justify-content:center;overflow:visible;"><div style="font-size:4.9px;line-height:5.88px;color:#8a8a8a;font-weight:normal;text-align:right;;text-shadow:none">0</div></div>
<div style="position:absolute;left:412.00px;top:536.10px;width:20.00px;height:6.00px;display:flex;flex-direction:column;justify-content:center;overflow:visible;"><div style="font-size:4.2px;line-height:5.04px;color:#4a4a4a;font-weight:normal;text-align:center;;text-shadow:none">16:00</div></div>
<div style="position:absolute;left:472.00px;top:536.10px;width:20.00px;height:6.00px;display:flex;flex-direction:column;justify-content:center;overflow:visible;"><div style="font-size:4.2px;line-height:5.04px;color:#4a4a4a;font-weight:normal;text-align:center;;text-shadow:none">18:00</div></div>
<div style="position:absolute;left:440.00px;top:539.70px;width:64.00px;height:6.00px;display:flex;flex-direction:column;justify-content:center;overflow:visible;"><div style="font-size:4.3px;line-height:5.159999999999999px;color:#555;font-weight:normal;text-align:right;;text-shadow:none">Powered By EnAppSys</div></div>
<div style="position:absolute;left:509.30px;top:421.00px;width:167.10px;height:6.70px;background:#424647;"></div>
<div style="position:absolute;left:509.30px;top:421.50px;width:167.10px;height:6.70px;display:flex;flex-direction:column;justify-content:center;overflow:visible;"><div style="font-size:3.9px;line-height:4.68px;color:#eec23e;font-weight:bold;text-align:center;">SLOW ON</div></div>
<div style="position:absolute;left:509.30px;top:427.70px;width:167.10px;height:104.50px;background:#d2e6ec;"></div>
<div style="position:absolute;left:509.30px;top:429.00px;width:30.70px;height:20.40px;background:#424647;"></div>
<div style="position:absolute;left:509.30px;top:429.60px;width:30.70px;height:20.40px;display:flex;flex-direction:column;justify-content:center;overflow:visible;"><div style="font-size:4.7px;line-height:6.4px;color:#eec23e;font-weight:bold;text-align:center;white-space:nowrap">Unit</div></div>
<div style="position:absolute;left:541.50px;top:429.00px;width:18.50px;height:20.40px;background:#7131a3;"></div>
<div style="position:absolute;left:541.50px;top:429.60px;width:18.50px;height:20.40px;display:flex;flex-direction:column;justify-content:center;overflow:visible;"><div style="font-size:4.7px;line-height:6.4px;color:#eec23e;font-weight:bold;text-align:center;white-space:nowrap">Av.<br>Price<br>(£/£)</div></div>
<div style="position:absolute;left:561.00px;top:429.00px;width:26.20px;height:20.40px;background:#424647;"></div>
<div style="position:absolute;left:561.00px;top:429.60px;width:26.20px;height:20.40px;display:flex;flex-direction:column;justify-content:center;overflow:visible;"><div style="font-size:4.7px;line-height:6.4px;color:#eec23e;font-weight:bold;text-align:center;white-space:nowrap">Min Run<br>Cost (£)</div></div>
<div style="position:absolute;left:588.60px;top:429.00px;width:29.50px;height:20.40px;background:#424647;"></div>
<div style="position:absolute;left:588.60px;top:429.60px;width:29.50px;height:20.40px;display:flex;flex-direction:column;justify-content:center;overflow:visible;"><div style="font-size:4.7px;line-height:6.4px;color:#eec23e;font-weight:bold;text-align:center;white-space:nowrap">MRC/MEL<br>(£/MW)</div></div>
<div style="position:absolute;left:619.70px;top:429.00px;width:22.20px;height:20.40px;background:#424647;"></div>
<div style="position:absolute;left:619.70px;top:429.60px;width:22.20px;height:20.40px;display:flex;flex-direction:column;justify-content:center;overflow:visible;"><div style="font-size:4.7px;line-height:6.4px;color:#eec23e;font-weight:bold;text-align:center;white-space:nowrap">Latest<br>Call<br>(MEL)</div></div>
<div style="position:absolute;left:643.20px;top:429.00px;width:17.70px;height:20.40px;background:#424647;"></div>
<div style="position:absolute;left:643.20px;top:429.60px;width:17.70px;height:20.40px;display:flex;flex-direction:column;justify-content:center;overflow:visible;"><div style="font-size:4.7px;line-height:6.4px;color:#eec23e;font-weight:bold;text-align:center;white-space:nowrap">MNZT</div></div>
<div style="position:absolute;left:662.50px;top:429.00px;width:13.90px;height:20.40px;background:#424647;"></div>
<div style="position:absolute;left:662.50px;top:429.60px;width:13.90px;height:20.40px;display:flex;flex-direction:column;justify-content:center;overflow:visible;"><div style="font-size:4.7px;line-height:6.4px;color:#eec23e;font-weight:bold;text-align:center;white-space:nowrap">NDZ</div></div>
<div style="position:absolute;left:509.30px;top:450.60px;width:30.70px;height:14.20px;background:#b7e7f8;"></div>
<div style="position:absolute;left:509.30px;top:451.60px;width:30.70px;height:14.20px;display:flex;flex-direction:column;justify-content:center;overflow:visible;"><div style="font-size:4.7px;line-height:6.6px;color:#1f2f38;font-weight:normal;text-align:center;white-space:nowrap">West Burton<br>1</div></div>
<div style="position:absolute;left:541.50px;top:450.60px;width:18.50px;height:14.20px;background:#f8c6a0;"></div>
<div style="position:absolute;left:541.50px;top:451.60px;width:18.50px;height:14.20px;display:flex;flex-direction:column;justify-content:center;overflow:visible;"><div style="font-size:4.7px;line-height:6.6px;color:#1f2f38;font-weight:normal;text-align:center;white-space:nowrap">100</div></div>
<div style="position:absolute;left:561.00px;top:450.60px;width:26.20px;height:14.20px;background:#b7e7f8;"></div>
<div style="position:absolute;left:561.00px;top:451.60px;width:26.20px;height:14.20px;display:flex;flex-direction:column;justify-content:center;overflow:visible;"><div style="font-size:4.7px;line-height:6.6px;color:#1f2f38;font-weight:normal;text-align:center;white-space:nowrap">97,527</div></div>
<div style="position:absolute;left:588.60px;top:450.60px;width:29.50px;height:14.20px;background:#b7e7f8;"></div>
<div style="position:absolute;left:588.60px;top:451.60px;width:29.50px;height:14.20px;display:flex;flex-direction:column;justify-content:center;overflow:visible;"><div style="font-size:4.7px;line-height:6.6px;color:#1f2f38;font-weight:normal;text-align:center;white-space:nowrap">198</div></div>
<div style="position:absolute;left:619.70px;top:450.60px;width:22.20px;height:14.20px;background:#b7e7f8;"></div>
<div style="position:absolute;left:619.70px;top:451.60px;width:22.20px;height:14.20px;display:flex;flex-direction:column;justify-content:center;overflow:visible;"><div style="font-size:4.7px;line-height:6.6px;color:#1f2f38;font-weight:normal;text-align:center;white-space:nowrap">15:16</div></div>
<div style="position:absolute;left:643.20px;top:450.60px;width:17.70px;height:14.20px;background:#b7e7f8;"></div>
<div style="position:absolute;left:643.20px;top:451.60px;width:17.70px;height:14.20px;display:flex;flex-direction:column;justify-content:center;overflow:visible;"><div style="font-size:4.7px;line-height:6.6px;color:#1f2f38;font-weight:normal;text-align:center;white-space:nowrap">240</div></div>
<div style="position:absolute;left:662.50px;top:450.60px;width:13.90px;height:14.20px;background:#b7e7f8;"></div>
<div style="position:absolute;left:662.50px;top:451.60px;width:13.90px;height:14.20px;display:flex;flex-direction:column;justify-content:center;overflow:visible;"><div style="font-size:4.7px;line-height:6.6px;color:#1f2f38;font-weight:normal;text-align:center;white-space:nowrap">85</div></div>
<div style="position:absolute;left:509.30px;top:465.60px;width:30.70px;height:14.10px;background:#b7e7f8;"></div>
<div style="position:absolute;left:509.30px;top:466.60px;width:30.70px;height:14.10px;display:flex;flex-direction:column;justify-content:center;overflow:visible;"><div style="font-size:4.7px;line-height:6.6px;color:#1f2f38;font-weight:normal;text-align:center;white-space:nowrap">West Burton<br>3</div></div>
<div style="position:absolute;left:541.50px;top:465.60px;width:18.50px;height:14.10px;background:#f8c6a0;"></div>
<div style="position:absolute;left:541.50px;top:466.60px;width:18.50px;height:14.10px;display:flex;flex-direction:column;justify-content:center;overflow:visible;"><div style="font-size:4.7px;line-height:6.6px;color:#1f2f38;font-weight:normal;text-align:center;white-space:nowrap">105</div></div>
<div style="position:absolute;left:561.00px;top:465.60px;width:26.20px;height:14.10px;background:#b7e7f8;"></div>
<div style="position:absolute;left:561.00px;top:466.60px;width:26.20px;height:14.10px;display:flex;flex-direction:column;justify-content:center;overflow:visible;"><div style="font-size:4.7px;line-height:6.6px;color:#1f2f38;font-weight:normal;text-align:center;white-space:nowrap">129,703</div></div>
<div style="position:absolute;left:588.60px;top:465.60px;width:29.50px;height:14.10px;background:#b7e7f8;"></div>
<div style="position:absolute;left:588.60px;top:466.60px;width:29.50px;height:14.10px;display:flex;flex-direction:column;justify-content:center;overflow:visible;"><div style="font-size:4.7px;line-height:6.6px;color:#1f2f38;font-weight:normal;text-align:center;white-space:nowrap">270</div></div>
<div style="position:absolute;left:619.70px;top:465.60px;width:22.20px;height:14.10px;background:#b7e7f8;"></div>
<div style="position:absolute;left:619.70px;top:466.60px;width:22.20px;height:14.10px;display:flex;flex-direction:column;justify-content:center;overflow:visible;"><div style="font-size:4.7px;line-height:6.6px;color:#1f2f38;font-weight:normal;text-align:center;white-space:nowrap">14:12</div></div>
<div style="position:absolute;left:643.20px;top:465.60px;width:17.70px;height:14.10px;background:#b7e7f8;"></div>
<div style="position:absolute;left:643.20px;top:466.60px;width:17.70px;height:14.10px;display:flex;flex-direction:column;justify-content:center;overflow:visible;"><div style="font-size:4.7px;line-height:6.6px;color:#1f2f38;font-weight:normal;text-align:center;white-space:nowrap">300</div></div>
<div style="position:absolute;left:662.50px;top:465.60px;width:13.90px;height:14.10px;background:#b7e7f8;"></div>
<div style="position:absolute;left:662.50px;top:466.60px;width:13.90px;height:14.10px;display:flex;flex-direction:column;justify-content:center;overflow:visible;"><div style="font-size:4.7px;line-height:6.6px;color:#1f2f38;font-weight:normal;text-align:center;white-space:nowrap">150</div></div>
<div style="position:absolute;left:509.30px;top:480.50px;width:30.70px;height:13.90px;background:#b7e7f8;"></div>
<div style="position:absolute;left:509.30px;top:481.50px;width:30.70px;height:13.90px;display:flex;flex-direction:column;justify-content:center;overflow:visible;"><div style="font-size:4.7px;line-height:6.6px;color:#1f2f38;font-weight:normal;text-align:center;white-space:nowrap">Fiddlers Ferry<br>3</div></div>
<div style="position:absolute;left:541.50px;top:480.50px;width:18.50px;height:13.90px;background:#f0914c;"></div>
<div style="position:absolute;left:541.50px;top:481.50px;width:18.50px;height:13.90px;display:flex;flex-direction:column;justify-content:center;overflow:visible;"><div style="font-size:4.7px;line-height:6.6px;color:#1f2f38;font-weight:normal;text-align:center;white-space:nowrap">139</div></div>
<div style="position:absolute;left:561.00px;top:480.50px;width:26.20px;height:13.90px;background:#b7e7f8;"></div>
<div style="position:absolute;left:561.00px;top:481.50px;width:26.20px;height:13.90px;display:flex;flex-direction:column;justify-content:center;overflow:visible;"><div style="font-size:4.7px;line-height:6.6px;color:#1f2f38;font-weight:normal;text-align:center;white-space:nowrap">106,289</div></div>
<div style="position:absolute;left:588.60px;top:480.50px;width:29.50px;height:13.90px;background:#b7e7f8;"></div>
<div style="position:absolute;left:588.60px;top:481.50px;width:29.50px;height:13.90px;display:flex;flex-direction:column;justify-content:center;overflow:visible;"><div style="font-size:4.7px;line-height:6.6px;color:#1f2f38;font-weight:normal;text-align:center;white-space:nowrap">236</div></div>
<div style="position:absolute;left:619.70px;top:480.50px;width:22.20px;height:13.90px;background:#b7e7f8;"></div>
<div style="position:absolute;left:619.70px;top:481.50px;width:22.20px;height:13.90px;display:flex;flex-direction:column;justify-content:center;overflow:visible;"><div style="font-size:4.7px;line-height:6.6px;color:#1f2f38;font-weight:normal;text-align:center;white-space:nowrap">13:22</div></div>
<div style="position:absolute;left:643.20px;top:480.50px;width:17.70px;height:13.90px;background:#b7e7f8;"></div>
<div style="position:absolute;left:643.20px;top:481.50px;width:17.70px;height:13.90px;display:flex;flex-direction:column;justify-content:center;overflow:visible;"><div style="font-size:4.7px;line-height:6.6px;color:#1f2f38;font-weight:normal;text-align:center;white-space:nowrap">240</div></div>
<div style="position:absolute;left:662.50px;top:480.50px;width:13.90px;height:13.90px;background:#b7e7f8;"></div>
<div style="position:absolute;left:662.50px;top:481.50px;width:13.90px;height:13.90px;display:flex;flex-direction:column;justify-content:center;overflow:visible;"><div style="font-size:4.7px;line-height:6.6px;color:#1f2f38;font-weight:normal;text-align:center;white-space:nowrap">140</div></div>
<div style="position:absolute;left:509.30px;top:495.20px;width:30.70px;height:14.30px;background:#b7e7f8;"></div>
<div style="position:absolute;left:509.30px;top:496.20px;width:30.70px;height:14.30px;display:flex;flex-direction:column;justify-content:center;overflow:visible;"><div style="font-size:4.7px;line-height:6.6px;color:#1f2f38;font-weight:normal;text-align:center;white-space:nowrap">Fiddlers Ferry<br>2</div></div>
<div style="position:absolute;left:541.50px;top:495.20px;width:18.50px;height:14.30px;background:#f0914c;"></div>
<div style="position:absolute;left:541.50px;top:496.20px;width:18.50px;height:14.30px;display:flex;flex-direction:column;justify-content:center;overflow:visible;"><div style="font-size:4.7px;line-height:6.6px;color:#1f2f38;font-weight:normal;text-align:center;white-space:nowrap">145</div></div>
<div style="position:absolute;left:561.00px;top:495.20px;width:26.20px;height:14.30px;background:#b7e7f8;"></div>
<div style="position:absolute;left:561.00px;top:496.20px;width:26.20px;height:14.30px;display:flex;flex-direction:column;justify-content:center;overflow:visible;"><div style="font-size:4.7px;line-height:6.6px;color:#1f2f38;font-weight:normal;text-align:center;white-space:nowrap">107,252</div></div>
<div style="position:absolute;left:588.60px;top:495.20px;width:29.50px;height:14.30px;background:#b7e7f8;"></div>
<div style="position:absolute;left:588.60px;top:496.20px;width:29.50px;height:14.30px;display:flex;flex-direction:column;justify-content:center;overflow:visible;"><div style="font-size:4.7px;line-height:6.6px;color:#1f2f38;font-weight:normal;text-align:center;white-space:nowrap">238</div></div>
<div style="position:absolute;left:619.70px;top:495.20px;width:22.20px;height:14.30px;background:#b7e7f8;"></div>
<div style="position:absolute;left:619.70px;top:496.20px;width:22.20px;height:14.30px;display:flex;flex-direction:column;justify-content:center;overflow:visible;"><div style="font-size:4.7px;line-height:6.6px;color:#1f2f38;font-weight:normal;text-align:center;white-space:nowrap">10:58</div></div>
<div style="position:absolute;left:643.20px;top:495.20px;width:17.70px;height:14.30px;background:#b7e7f8;"></div>
<div style="position:absolute;left:643.20px;top:496.20px;width:17.70px;height:14.30px;display:flex;flex-direction:column;justify-content:center;overflow:visible;"><div style="font-size:4.7px;line-height:6.6px;color:#1f2f38;font-weight:normal;text-align:center;white-space:nowrap">240</div></div>
<div style="position:absolute;left:662.50px;top:495.20px;width:13.90px;height:14.30px;background:#b7e7f8;"></div>
<div style="position:absolute;left:662.50px;top:496.20px;width:13.90px;height:14.30px;display:flex;flex-direction:column;justify-content:center;overflow:visible;"><div style="font-size:4.7px;line-height:6.6px;color:#1f2f38;font-weight:normal;text-align:center;white-space:nowrap">280</div></div>
<div style="position:absolute;left:509.30px;top:510.30px;width:30.70px;height:13.80px;background:#b7e7f8;"></div>
<div style="position:absolute;left:509.30px;top:511.30px;width:30.70px;height:13.80px;display:flex;flex-direction:column;justify-content:center;overflow:visible;"><div style="font-size:4.7px;line-height:6.6px;color:#1f2f38;font-weight:normal;text-align:center;white-space:nowrap">Fiddlers Ferry<br>4</div></div>
<div style="position:absolute;left:541.50px;top:510.30px;width:18.50px;height:13.80px;background:#f0914c;"></div>
<div style="position:absolute;left:541.50px;top:511.30px;width:18.50px;height:13.80px;display:flex;flex-direction:column;justify-content:center;overflow:visible;"><div style="font-size:4.7px;line-height:6.6px;color:#1f2f38;font-weight:normal;text-align:center;white-space:nowrap">170</div></div>
<div style="position:absolute;left:561.00px;top:510.30px;width:26.20px;height:13.80px;background:#b7e7f8;"></div>
<div style="position:absolute;left:561.00px;top:511.30px;width:26.20px;height:13.80px;display:flex;flex-direction:column;justify-content:center;overflow:visible;"><div style="font-size:4.7px;line-height:6.6px;color:#1f2f38;font-weight:normal;text-align:center;white-space:nowrap">125,743</div></div>
<div style="position:absolute;left:588.60px;top:510.30px;width:29.50px;height:13.80px;background:#b7e7f8;"></div>
<div style="position:absolute;left:588.60px;top:511.30px;width:29.50px;height:13.80px;display:flex;flex-direction:column;justify-content:center;overflow:visible;"><div style="font-size:4.7px;line-height:6.6px;color:#1f2f38;font-weight:normal;text-align:center;white-space:nowrap">279</div></div>
<div style="position:absolute;left:619.70px;top:510.30px;width:22.20px;height:13.80px;background:#b7e7f8;"></div>
<div style="position:absolute;left:619.70px;top:511.30px;width:22.20px;height:13.80px;display:flex;flex-direction:column;justify-content:center;overflow:visible;"><div style="font-size:4.7px;line-height:6.6px;color:#1f2f38;font-weight:normal;text-align:center;white-space:nowrap">09:38</div></div>
<div style="position:absolute;left:643.20px;top:510.30px;width:17.70px;height:13.80px;background:#b7e7f8;"></div>
<div style="position:absolute;left:643.20px;top:511.30px;width:17.70px;height:13.80px;display:flex;flex-direction:column;justify-content:center;overflow:visible;"><div style="font-size:4.7px;line-height:6.6px;color:#1f2f38;font-weight:normal;text-align:center;white-space:nowrap">240</div></div>
<div style="position:absolute;left:662.50px;top:510.30px;width:13.90px;height:13.80px;background:#b7e7f8;"></div>
<div style="position:absolute;left:662.50px;top:511.30px;width:13.90px;height:13.80px;display:flex;flex-direction:column;justify-content:center;overflow:visible;"><div style="font-size:4.7px;line-height:6.6px;color:#1f2f38;font-weight:normal;text-align:center;white-space:nowrap">360</div></div>
<div style="position:absolute;left:509.30px;top:524.90px;width:30.70px;height:7.30px;background:#b7e7f8;"></div>
<div style="position:absolute;left:509.30px;top:525.90px;width:30.70px;height:7.30px;display:flex;flex-direction:column;justify-content:center;overflow:visible;"><div style="font-size:4.7px;line-height:6.6px;color:#1f2f38;font-weight:normal;text-align:center;white-space:nowrap">Aberthaw B8</div></div>
<div style="position:absolute;left:541.50px;top:524.90px;width:18.50px;height:7.30px;background:#e2691c;"></div>
<div style="position:absolute;left:541.50px;top:525.90px;width:18.50px;height:7.30px;display:flex;flex-direction:column;justify-content:center;overflow:visible;"><div style="font-size:4.7px;line-height:6.6px;color:#1f2f38;font-weight:normal;text-align:center;white-space:nowrap">350</div></div>
<div style="position:absolute;left:561.00px;top:524.90px;width:26.20px;height:7.30px;background:#b7e7f8;"></div>
<div style="position:absolute;left:561.00px;top:525.90px;width:26.20px;height:7.30px;display:flex;flex-direction:column;justify-content:center;overflow:visible;"><div style="font-size:4.7px;line-height:6.6px;color:#1f2f38;font-weight:normal;text-align:center;white-space:nowrap">692,066</div></div>
<div style="position:absolute;left:588.60px;top:524.90px;width:29.50px;height:7.30px;background:#b7e7f8;"></div>
<div style="position:absolute;left:588.60px;top:525.90px;width:29.50px;height:7.30px;display:flex;flex-direction:column;justify-content:center;overflow:visible;"><div style="font-size:4.7px;line-height:6.6px;color:#1f2f38;font-weight:normal;text-align:center;white-space:nowrap">1,427</div></div>
<div style="position:absolute;left:619.70px;top:524.90px;width:22.20px;height:7.30px;background:#b7e7f8;"></div>
<div style="position:absolute;left:619.70px;top:525.90px;width:22.20px;height:7.30px;display:flex;flex-direction:column;justify-content:center;overflow:visible;"><div style="font-size:4.7px;line-height:6.6px;color:#1f2f38;font-weight:normal;text-align:center;white-space:nowrap">09:43</div></div>
<div style="position:absolute;left:643.20px;top:524.90px;width:17.70px;height:7.30px;background:#b7e7f8;"></div>
<div style="position:absolute;left:643.20px;top:525.90px;width:17.70px;height:7.30px;display:flex;flex-direction:column;justify-content:center;overflow:visible;"><div style="font-size:4.7px;line-height:6.6px;color:#1f2f38;font-weight:normal;text-align:center;white-space:nowrap">480</div></div>
<div style="position:absolute;left:662.50px;top:524.90px;width:13.90px;height:7.30px;background:#b7e7f8;"></div>
<div style="position:absolute;left:662.50px;top:525.90px;width:13.90px;height:7.30px;display:flex;flex-direction:column;justify-content:center;overflow:visible;"><div style="font-size:4.7px;line-height:6.6px;color:#1f2f38;font-weight:normal;text-align:center;white-space:nowrap">480</div></div>
<div style="position:absolute;left:0.00px;top:0.00px;width:681.00px;height:1.10px;background:#000;"></div>
<div style="position:absolute;left:0.00px;top:0.00px;width:1.60px;height:546.00px;background:#000;"></div>
<div style="position:absolute;left:679.80px;top:0.00px;width:1.20px;height:546.00px;background:#3a3a3a;"></div>
<div style="position:absolute;left:0.00px;top:544.30px;width:681.00px;height:1.70px;background:#1a1a1a;"></div>
</div></body></html>
